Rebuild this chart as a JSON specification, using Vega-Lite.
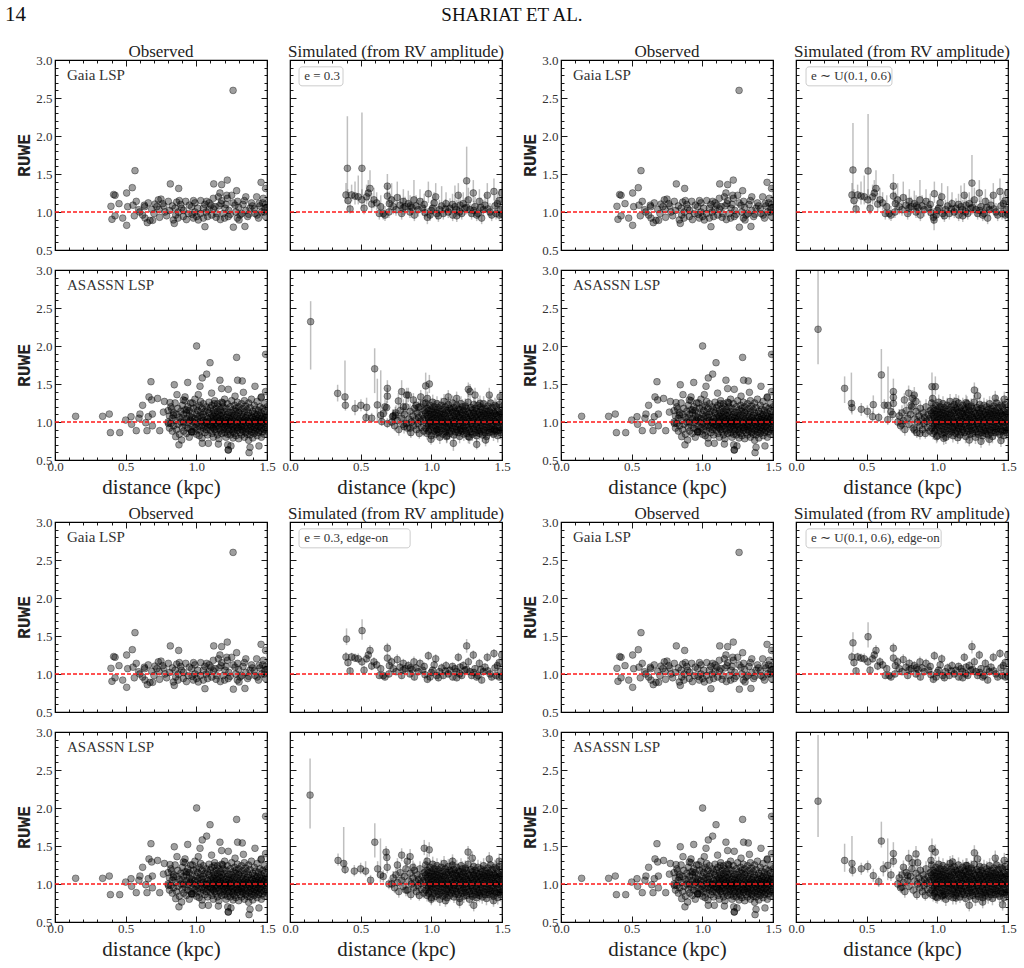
{
"$schema":"https://vega.github.io/schema/vega-lite/v6.json",
"padding":{"left":5,"top":4,"right":5,"bottom":5},
"background":"white",
"config":{
"view":{"stroke":"black","strokeWidth":1.2},
"axis":{"domain":false,"grid":false,"tickColor":"black","tickWidth":0.9,"labelFont":"Liberation Serif","labelFontSize":13,"labelColor":"#333","labelOverlap":false,"labelFlush":false,"titleFont":"Liberation Serif","titleFontWeight":"normal","titleFontSize":21,"titleColor":"#222"},
"axisX":{"labelPadding":6,"titlePadding":0},
"axisY":{"labelPadding":9,"titleFont":"Liberation Mono","titleFontWeight":"bold","titleFontSize":18,"titlePadding":2},
"title":{"font":"Liberation Serif","fontSize":17,"fontWeight":"normal","color":"#222","frame":"group"}
},
"datasets":{
"gobs":[
{"x":0.396,"y":1.075},{"x":0.415,"y":1.23},{"x":0.425,"y":1.22},{"x":0.403,"y":0.904},{"x":0.425,"y":0.95},{"x":0.453,"y":1.11},{"x":0.479,"y":0.92},{"x":0.507,"y":1.25},{"x":0.507,"y":0.825},{"x":0.514,"y":1.07},{"x":0.547,"y":1.32},{"x":0.566,"y":1.544},{"x":0.575,"y":1.14},{"x":0.552,"y":1.09},{"x":0.561,"y":0.95},{"x":0.592,"y":1.03},{"x":0.632,"y":1.09},{"x":0.635,"y":1.07},{"x":0.637,"y":0.92},{"x":0.653,"y":0.86},{"x":0.672,"y":0.89},{"x":0.691,"y":0.89},{"x":0.684,"y":1.035},{"x":0.708,"y":1.105},{"x":0.731,"y":1.16},{"x":0.75,"y":1.17},{"x":0.736,"y":1.03},{"x":0.762,"y":1.11},{"x":0.778,"y":1.0},{"x":0.802,"y":1.14},{"x":0.816,"y":1.37},{"x":0.837,"y":0.895},{"x":0.844,"y":0.85},{"x":0.854,"y":0.96},{"x":0.861,"y":1.13},{"x":0.873,"y":1.0},{"x":0.875,"y":1.31},{"x":0.896,"y":1.05},{"x":0.908,"y":0.94},{"x":0.925,"y":1.14},{"x":0.943,"y":0.98},{"x":0.967,"y":1.07},{"x":0.979,"y":0.92},{"x":0.99,"y":1.0},{"x":1.002,"y":0.94},{"x":1.014,"y":0.895},{"x":1.031,"y":1.15},{"x":1.05,"y":1.05},{"x":1.061,"y":0.807},{"x":1.073,"y":1.14},{"x":1.08,"y":0.94},{"x":1.09,"y":1.03},{"x":1.104,"y":1.09},{"x":1.123,"y":1.37},{"x":1.179,"y":1.36},{"x":1.219,"y":1.42},{"x":1.132,"y":1.07},{"x":1.144,"y":0.98},{"x":1.156,"y":1.2},{"x":1.167,"y":1.25},{"x":1.175,"y":1.11},{"x":1.191,"y":0.98},{"x":1.203,"y":1.05},{"x":1.215,"y":1.22},{"x":1.226,"y":0.94},{"x":1.25,"y":1.22},{"x":1.262,"y":0.8},{"x":1.274,"y":1.09},{"x":1.285,"y":1.28},{"x":1.292,"y":1.14},{"x":1.302,"y":0.895},{"x":1.321,"y":0.98},{"x":1.34,"y":1.15},{"x":1.344,"y":0.81},{"x":1.363,"y":0.94},{"x":1.38,"y":1.05},{"x":1.396,"y":1.08},{"x":1.415,"y":0.98},{"x":1.427,"y":1.2},{"x":1.443,"y":1.11},{"x":1.458,"y":1.39},{"x":1.462,"y":1.0},{"x":1.474,"y":1.18},{"x":1.486,"y":1.05},{"x":1.49,"y":0.94},{"x":1.26,"y":2.6},{"x":1.49,"y":1.31},
{"x":0.6,"y":1.0},{"x":0.62,"y":0.96},{"x":0.66,"y":1.12},{"x":0.7,"y":0.98},{"x":0.72,"y":1.07},{"x":0.74,"y":0.93},{"x":0.77,"y":1.08},{"x":0.79,"y":0.95},{"x":0.81,"y":1.02},{"x":0.83,"y":1.08},{"x":0.85,"y":1.05},{"x":0.87,"y":0.92},{"x":0.89,"y":1.1},{"x":0.91,"y":1.02},{"x":0.93,"y":0.9},{"x":0.95,"y":1.09},{"x":0.97,"y":0.97},{"x":0.99,"y":1.12},{"x":1.01,"y":1.05},{"x":1.03,"y":0.98},{"x":1.05,"y":0.92},{"x":1.07,"y":1.0},{"x":1.09,"y":1.12},{"x":1.11,"y":0.96},{"x":1.12,"y":1.04},{"x":1.14,"y":0.93},{"x":1.16,"y":1.08},{"x":1.18,"y":1.15},{"x":1.2,"y":0.92},{"x":1.21,"y":1.1},{"x":1.23,"y":1.02},{"x":1.24,"y":0.97},{"x":1.26,"y":1.12},{"x":1.28,"y":1.0},{"x":1.3,"y":1.06},{"x":1.31,"y":0.96},{"x":1.33,"y":1.1},{"x":1.35,"y":1.02},{"x":1.37,"y":0.97},{"x":1.39,"y":1.12},{"x":1.41,"y":1.04},{"x":1.43,"y":0.96},{"x":1.45,"y":1.08},{"x":1.47,"y":1.12},{"x":1.48,"y":1.0},{"x":1.49,"y":1.1},{"x":1.5,"y":1.06},{"x":1.35,"y":1.2},{"x":1.22,"y":1.18},{"x":1.12,"y":1.18},{"x":0.98,"y":1.15},{"x":0.88,"y":1.15},{"x":1.06,"y":1.1},{"x":1.17,"y":0.9},{"x":1.29,"y":0.92},{"x":1.44,"y":0.92}
],
"aobs":[
{"x":0.146,"y":1.075},{"x":0.337,"y":1.075},{"x":0.384,"y":1.105},{"x":0.392,"y":0.86},{"x":0.458,"y":0.86},{"x":0.5,"y":1.026},{"x":0.538,"y":1.07},{"x":0.542,"y":0.97},{"x":0.575,"y":0.886},{"x":0.601,"y":1.105},{"x":0.594,"y":1.05},{"x":0.62,"y":1.22},{"x":0.642,"y":0.99},{"x":0.651,"y":0.886},{"x":0.665,"y":1.33},{"x":0.684,"y":1.29},{"x":0.679,"y":1.53},{"x":0.66,"y":1.07},{"x":0.689,"y":1.105},{"x":0.689,"y":0.95},{"x":0.726,"y":1.31},{"x":0.741,"y":0.886},{"x":0.767,"y":1.13},{"x":0.774,"y":1.27},{"x":0.802,"y":0.98},{"x":0.814,"y":1.255},{"x":0.825,"y":1.17},{"x":0.837,"y":1.09},{"x":0.844,"y":1.49},{"x":0.854,"y":0.807},{"x":0.863,"y":1.36},{"x":0.877,"y":0.7},{"x":0.896,"y":0.763},{"x":0.908,"y":1.29},{"x":0.92,"y":1.33},{"x":0.932,"y":1.16},{"x":0.939,"y":1.52},{"x":0.955,"y":1.03},{"x":0.967,"y":0.87},{"x":0.967,"y":0.87},{"x":0.972,"y":1.25},{"x":1.002,"y":2.0},{"x":1.014,"y":1.36},{"x":1.026,"y":1.47},{"x":1.042,"y":1.58},{"x":1.042,"y":0.72},{"x":1.073,"y":1.63},{"x":1.085,"y":0.72},{"x":1.097,"y":1.78},{"x":1.108,"y":1.38},{"x":1.127,"y":1.24},{"x":1.156,"y":0.71},{"x":1.167,"y":1.55},{"x":1.179,"y":1.44},{"x":1.186,"y":1.25},{"x":1.222,"y":0.7},{"x":1.226,"y":0.632},{"x":1.226,"y":0.632},{"x":1.245,"y":0.685},{"x":1.285,"y":1.85},{"x":1.292,"y":1.55},{"x":1.325,"y":1.54},{"x":1.333,"y":1.39},{"x":1.373,"y":0.597},{"x":1.38,"y":0.667},{"x":1.443,"y":0.685},{"x":1.49,"y":1.89},{"x":1.226,"y":1.43},{"x":1.274,"y":1.34},{"x":1.415,"y":1.47},{"x":1.458,"y":1.32},
{"x":0.8,"y":1.0},{"x":0.8,"y":1.15},{"x":0.81,"y":0.92},{"x":0.81,"y":1.08},{"x":0.82,"y":1.2},{"x":0.82,"y":0.98},{"x":0.83,"y":1.05},{"x":0.83,"y":0.88},{"x":0.84,"y":1.12},{"x":0.84,"y":0.95},{"x":0.85,"y":1.02},{"x":0.85,"y":1.25},{"x":0.86,"y":0.9},{"x":0.86,"y":1.1},{"x":0.87,"y":1.18},{"x":0.87,"y":0.97},{"x":0.88,"y":1.06},{"x":0.88,"y":0.84},{"x":0.89,"y":1.14},{"x":0.89,"y":1.0},
{"x":0.9,"y":0.93},{"x":0.9,"y":1.22},{"x":0.9,"y":1.05},{"x":0.91,"y":1.1},{"x":0.91,"y":0.88},{"x":0.91,"y":1.0},{"x":0.92,"y":0.96},{"x":0.92,"y":1.16},{"x":0.92,"y":1.28},{"x":0.93,"y":1.04},{"x":0.93,"y":0.85},{"x":0.93,"y":1.12},{"x":0.94,"y":0.99},{"x":0.94,"y":1.2},{"x":0.94,"y":0.92},{"x":0.95,"y":1.08},{"x":0.95,"y":0.8},{"x":0.95,"y":1.15},{"x":0.96,"y":1.02},{"x":0.96,"y":0.9},{"x":0.96,"y":1.25},{"x":0.97,"y":0.95},{"x":0.97,"y":1.12},{"x":0.97,"y":1.06},{"x":0.98,"y":1.18},{"x":0.98,"y":0.87},{"x":0.98,"y":1.0},{"x":0.99,"y":1.04},{"x":0.99,"y":0.93},{"x":0.99,"y":1.3},
{"x":1.0,"y":0.97},{"x":1.0,"y":1.1},{"x":1.0,"y":0.84},{"x":1.0,"y":1.2},{"x":1.01,"y":1.05},{"x":1.01,"y":0.9},{"x":1.01,"y":1.15},{"x":1.01,"y":0.99},{"x":1.02,"y":0.94},{"x":1.02,"y":1.22},{"x":1.02,"y":1.08},{"x":1.02,"y":0.82},{"x":1.03,"y":1.01},{"x":1.03,"y":0.88},{"x":1.03,"y":1.13},{"x":1.03,"y":1.27},{"x":1.04,"y":0.96},{"x":1.04,"y":1.06},{"x":1.04,"y":0.79},{"x":1.04,"y":1.18},{"x":1.05,"y":1.1},{"x":1.05,"y":0.92},{"x":1.05,"y":1.02},{"x":1.05,"y":1.24},{"x":1.06,"y":0.86},{"x":1.06,"y":1.0},{"x":1.06,"y":1.14},{"x":1.06,"y":0.95},{"x":1.07,"y":1.07},{"x":1.07,"y":0.9},{"x":1.07,"y":1.2},{"x":1.07,"y":0.99},{"x":1.08,"y":0.93},{"x":1.08,"y":1.04},{"x":1.08,"y":0.83},{"x":1.08,"y":1.16},{"x":1.09,"y":1.12},{"x":1.09,"y":0.97},{"x":1.09,"y":1.01},{"x":1.09,"y":1.26},{"x":1.1,"y":0.89},{"x":1.1,"y":1.06},{"x":1.1,"y":0.95},{"x":1.1,"y":1.19},
{"x":1.11,"y":1.0},{"x":1.11,"y":0.85},{"x":1.11,"y":1.1},{"x":1.11,"y":1.22},{"x":1.11,"y":0.94},{"x":1.12,"y":0.92},{"x":1.12,"y":1.04},{"x":1.12,"y":1.15},{"x":1.12,"y":0.8},{"x":1.12,"y":1.08},{"x":1.13,"y":1.02},{"x":1.13,"y":0.9},{"x":1.13,"y":1.12},{"x":1.13,"y":1.28},{"x":1.13,"y":0.97},{"x":1.14,"y":0.87},{"x":1.14,"y":0.99},{"x":1.14,"y":1.07},{"x":1.14,"y":1.18},{"x":1.14,"y":0.94},{"x":1.15,"y":1.05},{"x":1.15,"y":0.83},{"x":1.15,"y":0.96},{"x":1.15,"y":1.14},{"x":1.15,"y":1.24},{"x":1.16,"y":0.91},{"x":1.16,"y":1.01},{"x":1.16,"y":1.1},{"x":1.16,"y":0.78},{"x":1.16,"y":1.2},{"x":1.17,"y":0.98},{"x":1.17,"y":1.08},{"x":1.17,"y":0.88},{"x":1.17,"y":1.16},{"x":1.17,"y":1.03},{"x":1.18,"y":0.94},{"x":1.18,"y":1.12},{"x":1.18,"y":0.85},{"x":1.18,"y":1.0},{"x":1.18,"y":1.26},{"x":1.19,"y":1.04},{"x":1.19,"y":0.9},{"x":1.19,"y":1.2},{"x":1.19,"y":0.97},{"x":1.19,"y":1.09},{"x":1.2,"y":0.86},{"x":1.2,"y":1.0},{"x":1.2,"y":1.14},{"x":1.2,"y":0.93},{"x":1.2,"y":1.3},
{"x":1.21,"y":1.06},{"x":1.21,"y":0.95},{"x":1.21,"y":0.8},{"x":1.21,"y":1.18},{"x":1.21,"y":1.02},{"x":1.22,"y":0.9},{"x":1.22,"y":1.1},{"x":1.22,"y":0.98},{"x":1.22,"y":1.24},{"x":1.22,"y":0.84},{"x":1.23,"y":1.0},{"x":1.23,"y":0.88},{"x":1.23,"y":1.13},{"x":1.23,"y":1.05},{"x":1.23,"y":0.93},{"x":1.24,"y":0.96},{"x":1.24,"y":1.2},{"x":1.24,"y":0.83},{"x":1.24,"y":1.08},{"x":1.24,"y":1.01},{"x":1.25,"y":1.12},{"x":1.25,"y":0.9},{"x":1.25,"y":1.03},{"x":1.25,"y":0.97},{"x":1.25,"y":1.28},{"x":1.26,"y":0.87},{"x":1.26,"y":1.06},{"x":1.26,"y":0.94},{"x":1.26,"y":1.16},{"x":1.26,"y":0.79},{"x":1.27,"y":1.0},{"x":1.27,"y":1.22},{"x":1.27,"y":0.91},{"x":1.27,"y":1.09},{"x":1.27,"y":0.85},{"x":1.28,"y":0.95},{"x":1.28,"y":1.04},{"x":1.28,"y":1.14},{"x":1.28,"y":0.82},{"x":1.28,"y":1.18},{"x":1.29,"y":1.08},{"x":1.29,"y":0.89},{"x":1.29,"y":0.99},{"x":1.29,"y":1.26},{"x":1.29,"y":0.93},{"x":1.3,"y":0.92},{"x":1.3,"y":1.02},{"x":1.3,"y":1.12},{"x":1.3,"y":0.78},{"x":1.3,"y":1.2},
{"x":1.31,"y":1.05},{"x":1.31,"y":0.86},{"x":1.31,"y":0.97},{"x":1.31,"y":1.15},{"x":1.31,"y":1.0},{"x":1.32,"y":0.9},{"x":1.32,"y":1.1},{"x":1.32,"y":0.94},{"x":1.32,"y":1.24},{"x":1.32,"y":0.83},{"x":1.33,"y":1.01},{"x":1.33,"y":0.88},{"x":1.33,"y":1.07},{"x":1.33,"y":1.18},{"x":1.33,"y":0.96},{"x":1.34,"y":0.93},{"x":1.34,"y":1.13},{"x":1.34,"y":0.8},{"x":1.34,"y":1.03},{"x":1.34,"y":1.28},{"x":1.35,"y":1.06},{"x":1.35,"y":0.91},{"x":1.35,"y":0.99},{"x":1.35,"y":1.21},{"x":1.35,"y":0.86},{"x":1.36,"y":0.95},{"x":1.36,"y":1.09},{"x":1.36,"y":0.84},{"x":1.36,"y":1.16},{"x":1.36,"y":1.02},{"x":1.37,"y":1.0},{"x":1.37,"y":0.89},{"x":1.37,"y":1.12},{"x":1.37,"y":0.76},{"x":1.37,"y":1.25},{"x":1.38,"y":0.92},{"x":1.38,"y":1.05},{"x":1.38,"y":0.97},{"x":1.38,"y":1.19},{"x":1.38,"y":0.83},{"x":1.39,"y":1.08},{"x":1.39,"y":0.87},{"x":1.39,"y":1.01},{"x":1.39,"y":1.3},{"x":1.39,"y":0.94},{"x":1.4,"y":0.9},{"x":1.4,"y":1.14},{"x":1.4,"y":0.98},{"x":1.4,"y":0.79},{"x":1.4,"y":1.06},
{"x":1.41,"y":1.03},{"x":1.41,"y":0.93},{"x":1.41,"y":1.22},{"x":1.41,"y":0.85},{"x":1.41,"y":1.11},{"x":1.42,"y":0.96},{"x":1.42,"y":1.07},{"x":1.42,"y":0.88},{"x":1.42,"y":1.17},{"x":1.42,"y":1.0},{"x":1.43,"y":1.1},{"x":1.43,"y":0.91},{"x":1.43,"y":1.02},{"x":1.43,"y":1.27},{"x":1.43,"y":0.82},{"x":1.44,"y":0.94},{"x":1.44,"y":1.05},{"x":1.44,"y":0.86},{"x":1.44,"y":1.15},{"x":1.44,"y":0.99},{"x":1.45,"y":1.01},{"x":1.45,"y":0.89},{"x":1.45,"y":1.2},{"x":1.45,"y":0.95},{"x":1.45,"y":1.09},{"x":1.46,"y":0.92},{"x":1.46,"y":1.12},{"x":1.46,"y":0.8},{"x":1.46,"y":1.04},{"x":1.46,"y":1.33},{"x":1.47,"y":1.07},{"x":1.47,"y":0.97},{"x":1.47,"y":0.87},{"x":1.47,"y":1.18},{"x":1.47,"y":1.0},{"x":1.48,"y":0.9},{"x":1.48,"y":1.03},{"x":1.48,"y":1.14},{"x":1.48,"y":0.84},{"x":1.48,"y":1.24},{"x":1.49,"y":1.05},{"x":1.49,"y":0.93},{"x":1.49,"y":1.1},{"x":1.49,"y":0.98},{"x":1.49,"y":1.4},{"x":1.5,"y":0.95},{"x":1.5,"y":1.08},{"x":1.5,"y":0.88},{"x":1.5,"y":1.2},{"x":1.5,"y":1.01}
],
"gsim":[
{"g":"c","x":0.396,"y":1.224,"lw":1.12,"hw":1.38,"ln":1.17,"hn":1.29},{"g":"c","x":0.41,"y":1.15,"lw":1.06,"hw":1.3,"ln":1.1,"hn":1.21},{"g":"c","x":0.425,"y":1.04,"lw":0.98,"hw":1.14,"ln":1.0,"hn":1.09},{"g":"c","x":0.436,"y":1.224,"lw":1.14,"hw":1.36,"ln":1.17,"hn":1.28},{"g":"c","x":0.46,"y":1.21,"lw":1.1,"hw":1.4,"ln":1.16,"hn":1.27},{"g":"c","x":0.483,"y":1.2,"lw":1.1,"hw":1.48,"ln":1.15,"hn":1.27},{"g":"c","x":0.509,"y":1.16,"lw":1.05,"hw":1.3,"ln":1.1,"hn":1.22},{"g":"c","x":0.524,"y":1.05,"lw":0.97,"hw":1.2,"ln":1.0,"hn":1.11},{"g":"c","x":0.542,"y":1.2,"lw":1.1,"hw":1.36,"ln":1.15,"hn":1.26},{"g":"c","x":0.554,"y":1.25,"lw":1.14,"hw":1.42,"ln":1.19,"hn":1.31},{"g":"c","x":0.566,"y":1.31,"lw":1.19,"hw":1.55,"ln":1.25,"hn":1.38},{"g":"c","x":0.578,"y":1.105,"lw":1.0,"hw":1.25,"ln":1.05,"hn":1.16},{"g":"c","x":0.594,"y":1.16,"lw":1.05,"hw":1.32,"ln":1.1,"hn":1.22},{"g":"c","x":0.613,"y":1.12,"lw":1.02,"hw":1.26,"ln":1.07,"hn":1.17},{"g":"c","x":0.632,"y":0.98,"lw":0.9,"hw":1.1,"ln":0.94,"hn":1.03},{"g":"c","x":0.642,"y":1.07,"lw":0.97,"hw":1.22,"ln":1.02,"hn":1.12},{"g":"c","x":0.66,"y":0.98,"lw":0.9,"hw":1.09,"ln":0.94,"hn":1.03},{"g":"c","x":0.672,"y":0.96,"lw":0.88,"hw":1.08,"ln":0.92,"hn":1.01},{"g":"c","x":0.689,"y":1.34,"lw":1.2,"hw":1.5,"ln":1.27,"hn":1.41},{"g":"c","x":0.689,"y":1.21,"lw":1.1,"hw":1.36,"ln":1.15,"hn":1.27},{"g":"c","x":0.703,"y":1.11,"lw":1.0,"hw":1.27,"ln":1.05,"hn":1.17},{"g":"c","x":0.719,"y":1.16,"lw":1.05,"hw":1.38,"ln":1.1,"hn":1.22},{"g":"c","x":0.731,"y":1.07,"lw":0.97,"hw":1.2,"ln":1.02,"hn":1.12},{"g":"c","x":0.75,"y":1.03,"lw":0.95,"hw":1.15,"ln":0.99,"hn":1.08},{"g":"c","x":0.759,"y":1.19,"lw":1.07,"hw":1.4,"ln":1.13,"hn":1.26},{"g":"c","x":0.778,"y":1.09,"lw":0.99,"hw":1.23,"ln":1.04,"hn":1.14},{"g":"c","x":0.79,"y":0.98,"lw":0.9,"hw":1.1,"ln":0.94,"hn":1.03},{"g":"c","x":0.802,"y":1.14,"lw":1.03,"hw":1.3,"ln":1.08,"hn":1.2},{"g":"c","x":0.814,"y":1.07,"lw":0.97,"hw":1.2,"ln":1.02,"hn":1.12},{"g":"c","x":0.837,"y":1.11,"lw":1.0,"hw":1.28,"ln":1.06,"hn":1.17},{"g":"c","x":0.849,"y":1.0,"lw":0.92,"hw":1.12,"ln":0.96,"hn":1.05},{"g":"c","x":0.863,"y":1.06,"lw":0.96,"hw":1.2,"ln":1.01,"hn":1.11},{"g":"c","x":0.877,"y":1.16,"lw":1.05,"hw":1.42,"ln":1.1,"hn":1.23},{"g":"c","x":0.892,"y":1.08,"lw":0.98,"hw":1.22,"ln":1.03,"hn":1.13},{"g":"c","x":0.908,"y":1.03,"lw":0.94,"hw":1.16,"ln":0.98,"hn":1.08},{"g":"c","x":0.92,"y":1.14,"lw":1.03,"hw":1.3,"ln":1.08,"hn":1.2},{"g":"c","x":0.939,"y":1.05,"lw":0.96,"hw":1.18,"ln":1.0,"hn":1.1},{"g":"c","x":0.955,"y":0.99,"lw":0.91,"hw":1.1,"ln":0.95,"hn":1.04},{"g":"c","x":0.972,"y":0.93,"lw":0.84,"hw":1.05,"ln":0.89,"hn":0.98},{"g":"c","x":0.979,"y":1.24,"lw":1.12,"hw":1.4,"ln":1.18,"hn":1.3},{"g":"c","x":0.991,"y":0.96,"lw":0.88,"hw":1.08,"ln":0.92,"hn":1.01},{"g":"c","x":1.009,"y":1.05,"lw":0.96,"hw":1.2,"ln":1.0,"hn":1.1},{"g":"c","x":1.031,"y":1.2,"lw":1.08,"hw":1.38,"ln":1.14,"hn":1.26},{"g":"c","x":1.038,"y":0.98,"lw":0.9,"hw":1.1,"ln":0.94,"hn":1.03},{"g":"c","x":1.057,"y":1.03,"lw":0.94,"hw":1.16,"ln":0.98,"hn":1.08},{"g":"c","x":1.073,"y":1.08,"lw":0.98,"hw":1.34,"ln":1.03,"hn":1.14},{"g":"c","x":1.085,"y":0.98,"lw":0.9,"hw":1.1,"ln":0.94,"hn":1.03},{"g":"c","x":1.104,"y":1.11,"lw":1.0,"hw":1.26,"ln":1.06,"hn":1.17},{"g":"c","x":1.12,"y":1.0,"lw":0.92,"hw":1.12,"ln":0.96,"hn":1.05},{"g":"c","x":1.132,"y":1.05,"lw":0.96,"hw":1.18,"ln":1.0,"hn":1.1},{"g":"c","x":1.151,"y":0.96,"lw":0.88,"hw":1.08,"ln":0.92,"hn":1.01},{"g":"c","x":1.167,"y":1.07,"lw":0.97,"hw":1.35,"ln":1.02,"hn":1.12},{"g":"c","x":1.179,"y":1.03,"lw":0.94,"hw":1.16,"ln":0.98,"hn":1.08},{"g":"c","x":1.191,"y":1.22,"lw":1.1,"hw":1.38,"ln":1.16,"hn":1.28},{"g":"c","x":1.203,"y":1.09,"lw":0.99,"hw":1.24,"ln":1.04,"hn":1.14},{"g":"c","x":1.215,"y":0.98,"lw":0.9,"hw":1.1,"ln":0.94,"hn":1.03},{"g":"c","x":1.226,"y":1.11,"lw":1.0,"hw":1.26,"ln":1.06,"hn":1.17},{"g":"c","x":1.238,"y":1.05,"lw":0.96,"hw":1.18,"ln":1.0,"hn":1.1},{"g":"c","x":1.262,"y":1.16,"lw":1.05,"hw":1.32,"ln":1.1,"hn":1.22},{"g":"c","x":1.274,"y":1.03,"lw":0.94,"hw":1.16,"ln":0.98,"hn":1.08},{"g":"c","x":1.285,"y":0.98,"lw":0.9,"hw":1.1,"ln":0.94,"hn":1.03},{"g":"c","x":1.297,"y":1.25,"lw":1.13,"hw":1.42,"ln":1.19,"hn":1.31},{"g":"c","x":1.309,"y":1.07,"lw":0.97,"hw":1.2,"ln":1.02,"hn":1.12},{"g":"c","x":1.321,"y":0.96,"lw":0.88,"hw":1.08,"ln":0.92,"hn":1.01},{"g":"c","x":1.34,"y":1.14,"lw":1.03,"hw":1.3,"ln":1.08,"hn":1.2},{"g":"c","x":1.356,"y":0.92,"lw":0.84,"hw":1.04,"ln":0.88,"hn":0.97},{"g":"c","x":1.368,"y":1.03,"lw":0.94,"hw":1.16,"ln":0.98,"hn":1.08},{"g":"c","x":1.38,"y":1.09,"lw":0.99,"hw":1.24,"ln":1.04,"hn":1.14},{"g":"c","x":1.396,"y":1.22,"lw":1.1,"hw":1.38,"ln":1.16,"hn":1.28},{"g":"c","x":1.415,"y":1.0,"lw":0.92,"hw":1.12,"ln":0.96,"hn":1.05},{"g":"c","x":1.427,"y":0.96,"lw":0.88,"hw":1.08,"ln":0.92,"hn":1.01},{"g":"c","x":1.443,"y":1.27,"lw":1.15,"hw":1.44,"ln":1.21,"hn":1.33},{"g":"c","x":1.458,"y":0.98,"lw":0.9,"hw":1.1,"ln":0.94,"hn":1.03},{"g":"c","x":1.467,"y":1.11,"lw":1.0,"hw":1.26,"ln":1.06,"hn":1.17},{"g":"c","x":1.481,"y":0.96,"lw":0.88,"hw":1.08,"ln":0.92,"hn":1.01},{"g":"c","x":1.491,"y":1.03,"lw":0.94,"hw":1.16,"ln":0.98,"hn":1.08},{"g":"c","x":1.498,"y":1.25,"lw":1.13,"hw":1.42,"ln":1.19,"hn":1.31},
{"g":"c","x":0.85,"y":1.08,"lw":0.98,"hw":1.22,"ln":1.03,"hn":1.13},{"g":"c","x":0.95,"y":1.1,"lw":1.0,"hw":1.24,"ln":1.05,"hn":1.15},{"g":"c","x":1.0,"y":1.02,"lw":0.93,"hw":1.15,"ln":0.97,"hn":1.07},{"g":"c","x":1.05,"y":0.95,"lw":0.87,"hw":1.06,"ln":0.91,"hn":1.0},{"g":"c","x":1.1,"y":1.04,"lw":0.95,"hw":1.17,"ln":0.99,"hn":1.09},{"g":"c","x":1.15,"y":1.1,"lw":1.0,"hw":1.24,"ln":1.05,"hn":1.15},{"g":"c","x":1.2,"y":1.0,"lw":0.92,"hw":1.12,"ln":0.96,"hn":1.05},{"g":"c","x":1.25,"y":1.06,"lw":0.97,"hw":1.19,"ln":1.01,"hn":1.11},{"g":"c","x":1.3,"y":1.02,"lw":0.93,"hw":1.15,"ln":0.97,"hn":1.07},{"g":"c","x":1.35,"y":1.06,"lw":0.97,"hw":1.19,"ln":1.01,"hn":1.11},{"g":"c","x":1.4,"y":1.04,"lw":0.95,"hw":1.17,"ln":0.99,"hn":1.09},{"g":"c","x":1.45,"y":1.08,"lw":0.98,"hw":1.22,"ln":1.03,"hn":1.13},{"g":"c","x":1.5,"y":0.97,"lw":0.89,"hw":1.08,"ln":0.93,"hn":1.02},{"g":"c","x":1.02,"y":1.12,"lw":1.02,"hw":1.26,"ln":1.07,"hn":1.17},{"g":"c","x":1.18,"y":0.95,"lw":0.87,"hw":1.06,"ln":0.91,"hn":1.0},{"g":"c","x":1.33,"y":0.98,"lw":0.9,"hw":1.1,"ln":0.94,"hn":1.03},{"g":"c","x":1.48,"y":1.15,"lw":1.04,"hw":1.3,"ln":1.09,"hn":1.21},{"g":"c","x":0.88,"y":0.96,"lw":0.88,"hw":1.07,"ln":0.92,"hn":1.01},{"g":"c","x":0.7,"y":1.0,"lw":0.92,"hw":1.12,"ln":0.96,"hn":1.05},{"g":"c","x":0.8,"y":1.05,"lw":0.96,"hw":1.18,"ln":1.0,"hn":1.1},
{"g":"A","x":0.406,"y":1.575,"lw":1.22,"hw":2.26,"ln":1.22,"hn":2.26},{"g":"A","x":0.509,"y":1.575,"lw":1.2,"hw":2.31,"ln":1.2,"hn":2.31},{"g":"A","x":1.25,"y":1.41,"lw":1.16,"hw":1.86,"ln":1.16,"hn":1.86},
{"g":"B","x":0.403,"y":1.553,"lw":1.2,"hw":2.17,"ln":1.2,"hn":2.17},{"g":"B","x":0.51,"y":1.54,"lw":1.15,"hw":2.29,"ln":1.15,"hn":2.29},{"g":"B","x":1.245,"y":1.38,"lw":1.1,"hw":1.75,"ln":1.1,"hn":1.75},{"g":"B","x":0.977,"y":0.895,"lw":0.76,"hw":1.0,"ln":0.76,"hn":1.0},
{"g":"C","x":0.4,"y":1.46,"lw":1.38,"hw":1.6,"ln":1.38,"hn":1.6},{"g":"C","x":0.51,"y":1.57,"lw":1.45,"hw":1.72,"ln":1.45,"hn":1.72},{"g":"C","x":1.25,"y":1.37,"lw":1.28,"hw":1.46,"ln":1.28,"hn":1.46},
{"g":"D","x":0.403,"y":1.41,"lw":1.29,"hw":1.55,"ln":1.29,"hn":1.55},{"g":"D","x":0.51,"y":1.49,"lw":1.35,"hw":1.68,"ln":1.35,"hn":1.68},{"g":"D","x":1.245,"y":1.36,"lw":1.27,"hw":1.44,"ln":1.27,"hn":1.44}
],
"asim":[
{"g":"c","x":0.72,"y":1.0,"l":0.93,"h":1.08},{"g":"c","x":0.73,"y":1.08,"l":1.0,"h":1.17},{"g":"c","x":0.74,"y":0.95,"l":0.88,"h":1.03},{"g":"c","x":0.75,"y":1.12,"l":1.03,"h":1.22},{"g":"c","x":0.76,"y":1.02,"l":0.95,"h":1.1},{"g":"c","x":0.77,"y":0.9,"l":0.82,"h":0.98},{"g":"c","x":0.78,"y":1.15,"l":1.06,"h":1.25},{"g":"c","x":0.79,"y":1.05,"l":0.97,"h":1.14},{"g":"c","x":0.8,"y":0.97,"l":0.9,"h":1.05},{"g":"c","x":0.81,"y":1.1,"l":1.01,"h":1.2},{"g":"c","x":0.82,"y":1.2,"l":1.1,"h":1.3},{"g":"c","x":0.83,"y":0.92,"l":0.85,"h":1.0},{"g":"c","x":0.84,"y":1.04,"l":0.96,"h":1.13},{"g":"c","x":0.85,"y":1.14,"l":1.05,"h":1.24},{"g":"c","x":0.855,"y":0.86,"l":0.79,"h":0.94},{"g":"c","x":0.86,"y":1.0,"l":0.92,"h":1.08},{"g":"c","x":0.87,"y":1.08,"l":0.99,"h":1.17},{"g":"c","x":0.875,"y":0.95,"l":0.88,"h":1.03},{"g":"c","x":0.88,"y":1.18,"l":1.08,"h":1.28},{"g":"c","x":0.89,"y":1.03,"l":0.95,"h":1.12},{"g":"c","x":0.895,"y":0.9,"l":0.83,"h":0.98},{"g":"c","x":0.9,"y":1.12,"l":1.03,"h":1.21},{"g":"c","x":0.905,"y":0.98,"l":0.9,"h":1.06},{"g":"c","x":0.91,"y":1.06,"l":0.98,"h":1.15},{"g":"c","x":0.915,"y":0.85,"l":0.78,"h":0.93},{"g":"c","x":0.92,"y":1.2,"l":1.1,"h":1.3},{"g":"c","x":0.925,"y":1.01,"l":0.93,"h":1.09},{"g":"c","x":0.93,"y":0.93,"l":0.86,"h":1.01},{"g":"c","x":0.935,"y":1.1,"l":1.02,"h":1.19},{"g":"c","x":0.94,"y":1.04,"l":0.96,"h":1.12},{"g":"c","x":0.945,"y":0.88,"l":0.81,"h":0.96},{"g":"c","x":0.95,"y":1.15,"l":1.06,"h":1.25},
{"g":"c","x":0.96,"y":0.92,"l":0.84,"h":1.01},{"g":"c","x":0.96,"y":1.02,"l":0.92,"h":1.12},{"g":"c","x":0.96,"y":1.12,"l":1.05,"h":1.2},{"g":"c","x":0.96,"y":1.25,"l":1.16,"h":1.35},
{"g":"c","x":0.97,"y":0.85,"l":0.77,"h":0.94},{"g":"c","x":0.97,"y":0.98,"l":0.88,"h":1.08},{"g":"c","x":0.97,"y":1.08,"l":1.01,"h":1.16},{"g":"c","x":0.97,"y":1.18,"l":1.09,"h":1.28},
{"g":"c","x":0.98,"y":0.95,"l":0.87,"h":1.04},{"g":"c","x":0.98,"y":1.05,"l":0.95,"h":1.15},{"g":"c","x":0.98,"y":1.15,"l":1.08,"h":1.23},{"g":"c","x":0.98,"y":0.88,"l":0.79,"h":0.98},
{"g":"c","x":0.99,"y":1.0,"l":0.92,"h":1.09},{"g":"c","x":0.99,"y":1.1,"l":1.0,"h":1.2},{"g":"c","x":0.99,"y":0.9,"l":0.83,"h":0.98},{"g":"c","x":0.99,"y":1.22,"l":1.13,"h":1.32},
{"g":"c","x":1.0,"y":0.82,"l":0.74,"h":0.91},{"g":"c","x":1.0,"y":0.97,"l":0.87,"h":1.07},{"g":"c","x":1.0,"y":1.07,"l":1.0,"h":1.15},{"g":"c","x":1.0,"y":1.17,"l":1.08,"h":1.27},
{"g":"c","x":1.01,"y":0.93,"l":0.85,"h":1.02},{"g":"c","x":1.01,"y":1.03,"l":0.93,"h":1.13},{"g":"c","x":1.01,"y":1.13,"l":1.06,"h":1.21},{"g":"c","x":1.01,"y":1.26,"l":1.17,"h":1.36},
{"g":"c","x":1.02,"y":0.88,"l":0.8,"h":0.97},{"g":"c","x":1.02,"y":1.0,"l":0.9,"h":1.1},{"g":"c","x":1.02,"y":1.1,"l":1.03,"h":1.18},{"g":"c","x":1.02,"y":1.2,"l":1.11,"h":1.3},
{"g":"c","x":1.03,"y":0.95,"l":0.87,"h":1.04},{"g":"c","x":1.03,"y":1.05,"l":0.95,"h":1.15},{"g":"c","x":1.03,"y":0.84,"l":0.77,"h":0.92},{"g":"c","x":1.03,"y":1.16,"l":1.07,"h":1.26},
{"g":"c","x":1.04,"y":0.9,"l":0.82,"h":0.99},{"g":"c","x":1.04,"y":1.02,"l":0.92,"h":1.12},{"g":"c","x":1.04,"y":1.12,"l":1.05,"h":1.2},{"g":"c","x":1.04,"y":1.24,"l":1.15,"h":1.34},
{"g":"c","x":1.05,"y":0.86,"l":0.78,"h":0.95},{"g":"c","x":1.05,"y":0.98,"l":0.88,"h":1.08},{"g":"c","x":1.05,"y":1.08,"l":1.01,"h":1.16},{"g":"c","x":1.05,"y":1.19,"l":1.1,"h":1.29},
{"g":"c","x":1.06,"y":0.94,"l":0.86,"h":1.03},{"g":"c","x":1.06,"y":1.04,"l":0.94,"h":1.14},{"g":"c","x":1.06,"y":1.14,"l":1.07,"h":1.22},{"g":"c","x":1.06,"y":0.8,"l":0.71,"h":0.9},
{"g":"c","x":1.07,"y":0.89,"l":0.81,"h":0.98},{"g":"c","x":1.07,"y":1.0,"l":0.9,"h":1.1},{"g":"c","x":1.07,"y":1.1,"l":1.03,"h":1.18},{"g":"c","x":1.07,"y":1.22,"l":1.13,"h":1.32},
{"g":"c","x":1.08,"y":0.96,"l":0.88,"h":1.05},{"g":"c","x":1.08,"y":1.06,"l":0.96,"h":1.16},{"g":"c","x":1.08,"y":0.84,"l":0.77,"h":0.92},{"g":"c","x":1.08,"y":1.17,"l":1.08,"h":1.27},
{"g":"c","x":1.09,"y":0.91,"l":0.83,"h":1.0},{"g":"c","x":1.09,"y":1.01,"l":0.91,"h":1.11},{"g":"c","x":1.09,"y":1.11,"l":1.04,"h":1.19},{"g":"c","x":1.09,"y":1.27,"l":1.18,"h":1.37},
{"g":"c","x":1.1,"y":0.87,"l":0.79,"h":0.96},{"g":"c","x":1.1,"y":0.99,"l":0.89,"h":1.09},{"g":"c","x":1.1,"y":1.09,"l":1.02,"h":1.17},{"g":"c","x":1.1,"y":1.2,"l":1.11,"h":1.3},
{"g":"c","x":1.11,"y":0.93,"l":0.85,"h":1.02},{"g":"c","x":1.11,"y":1.03,"l":0.93,"h":1.13},{"g":"c","x":1.11,"y":1.15,"l":1.08,"h":1.23},{"g":"c","x":1.11,"y":0.82,"l":0.73,"h":0.92},
{"g":"c","x":1.12,"y":0.9,"l":0.82,"h":0.99},{"g":"c","x":1.12,"y":1.0,"l":0.9,"h":1.1},{"g":"c","x":1.12,"y":1.12,"l":1.05,"h":1.2},{"g":"c","x":1.12,"y":1.23,"l":1.14,"h":1.33},
{"g":"c","x":1.13,"y":0.85,"l":0.77,"h":0.94},{"g":"c","x":1.13,"y":0.97,"l":0.87,"h":1.07},{"g":"c","x":1.13,"y":1.07,"l":1.0,"h":1.15},{"g":"c","x":1.13,"y":1.18,"l":1.09,"h":1.28},
{"g":"c","x":1.14,"y":0.95,"l":0.87,"h":1.04},{"g":"c","x":1.14,"y":1.05,"l":0.95,"h":1.15},{"g":"c","x":1.14,"y":1.16,"l":1.09,"h":1.24},{"g":"c","x":1.14,"y":0.88,"l":0.79,"h":0.98},
{"g":"c","x":1.15,"y":0.92,"l":0.84,"h":1.01},{"g":"c","x":1.15,"y":1.02,"l":0.92,"h":1.12},{"g":"c","x":1.15,"y":1.13,"l":1.06,"h":1.21},{"g":"c","x":1.15,"y":1.25,"l":1.16,"h":1.35},
{"g":"c","x":1.16,"y":0.83,"l":0.75,"h":0.92},{"g":"c","x":1.16,"y":0.98,"l":0.88,"h":1.08},{"g":"c","x":1.16,"y":1.08,"l":1.01,"h":1.16},{"g":"c","x":1.16,"y":1.19,"l":1.1,"h":1.29},
{"g":"c","x":1.17,"y":0.94,"l":0.86,"h":1.03},{"g":"c","x":1.17,"y":1.04,"l":0.94,"h":1.14},{"g":"c","x":1.17,"y":1.14,"l":1.07,"h":1.22},{"g":"c","x":1.17,"y":0.87,"l":0.78,"h":0.97},
{"g":"c","x":1.18,"y":0.9,"l":0.82,"h":0.99},{"g":"c","x":1.18,"y":1.01,"l":0.91,"h":1.11},{"g":"c","x":1.18,"y":1.11,"l":1.04,"h":1.19},{"g":"c","x":1.18,"y":1.22,"l":1.13,"h":1.32},
{"g":"c","x":1.19,"y":0.86,"l":0.78,"h":0.95},{"g":"c","x":1.19,"y":0.97,"l":0.87,"h":1.07},{"g":"c","x":1.19,"y":1.07,"l":1.0,"h":1.15},{"g":"c","x":1.19,"y":1.17,"l":1.08,"h":1.27},
{"g":"c","x":1.2,"y":0.95,"l":0.87,"h":1.04},{"g":"c","x":1.2,"y":1.06,"l":0.96,"h":1.16},{"g":"c","x":1.2,"y":1.16,"l":1.09,"h":1.24},{"g":"c","x":1.2,"y":0.81,"l":0.72,"h":0.91},
{"g":"c","x":1.21,"y":0.91,"l":0.83,"h":1.0},{"g":"c","x":1.21,"y":1.02,"l":0.92,"h":1.12},{"g":"c","x":1.21,"y":1.12,"l":1.05,"h":1.2},{"g":"c","x":1.21,"y":1.24,"l":1.15,"h":1.34},
{"g":"c","x":1.22,"y":0.88,"l":0.8,"h":0.97},{"g":"c","x":1.22,"y":0.99,"l":0.89,"h":1.09},{"g":"c","x":1.22,"y":1.09,"l":1.02,"h":1.17},{"g":"c","x":1.22,"y":1.2,"l":1.11,"h":1.3},
{"g":"c","x":1.23,"y":0.94,"l":0.86,"h":1.03},{"g":"c","x":1.23,"y":1.04,"l":0.94,"h":1.14},{"g":"c","x":1.23,"y":1.15,"l":1.08,"h":1.23},{"g":"c","x":1.23,"y":0.84,"l":0.75,"h":0.94},
{"g":"c","x":1.24,"y":0.89,"l":0.81,"h":0.98},{"g":"c","x":1.24,"y":1.0,"l":0.9,"h":1.1},{"g":"c","x":1.24,"y":1.1,"l":1.03,"h":1.18},{"g":"c","x":1.24,"y":1.21,"l":1.12,"h":1.31},
{"g":"c","x":1.25,"y":0.85,"l":0.77,"h":0.94},{"g":"c","x":1.25,"y":0.96,"l":0.86,"h":1.06},{"g":"c","x":1.25,"y":1.06,"l":0.99,"h":1.14},{"g":"c","x":1.25,"y":1.18,"l":1.09,"h":1.28},
{"g":"c","x":1.26,"y":0.93,"l":0.85,"h":1.02},{"g":"c","x":1.26,"y":1.03,"l":0.93,"h":1.13},{"g":"c","x":1.26,"y":1.13,"l":1.06,"h":1.21},{"g":"c","x":1.26,"y":1.26,"l":1.17,"h":1.36},
{"g":"c","x":1.27,"y":0.9,"l":0.82,"h":0.99},{"g":"c","x":1.27,"y":1.01,"l":0.91,"h":1.11},{"g":"c","x":1.27,"y":1.11,"l":1.04,"h":1.19},{"g":"c","x":1.27,"y":0.8,"l":0.71,"h":0.9},
{"g":"c","x":1.28,"y":0.87,"l":0.79,"h":0.96},{"g":"c","x":1.28,"y":0.98,"l":0.88,"h":1.08},{"g":"c","x":1.28,"y":1.08,"l":1.01,"h":1.16},{"g":"c","x":1.28,"y":1.19,"l":1.1,"h":1.29},
{"g":"c","x":1.29,"y":0.95,"l":0.87,"h":1.04},{"g":"c","x":1.29,"y":1.05,"l":0.95,"h":1.15},{"g":"c","x":1.29,"y":1.16,"l":1.09,"h":1.24},{"g":"c","x":1.29,"y":0.84,"l":0.75,"h":0.94},
{"g":"c","x":1.3,"y":0.91,"l":0.83,"h":1.0},{"g":"c","x":1.3,"y":1.02,"l":0.92,"h":1.12},{"g":"c","x":1.3,"y":1.12,"l":1.05,"h":1.2},{"g":"c","x":1.3,"y":1.23,"l":1.14,"h":1.33},
{"g":"c","x":1.31,"y":0.86,"l":0.78,"h":0.95},{"g":"c","x":1.31,"y":0.97,"l":0.87,"h":1.07},{"g":"c","x":1.31,"y":1.07,"l":1.0,"h":1.15},{"g":"c","x":1.31,"y":1.18,"l":1.09,"h":1.28},
{"g":"c","x":1.32,"y":0.94,"l":0.86,"h":1.03},{"g":"c","x":1.32,"y":1.04,"l":0.94,"h":1.14},{"g":"c","x":1.32,"y":1.14,"l":1.07,"h":1.22},{"g":"c","x":1.32,"y":0.82,"l":0.73,"h":0.92},
{"g":"c","x":1.33,"y":0.89,"l":0.81,"h":0.98},{"g":"c","x":1.33,"y":1.0,"l":0.9,"h":1.1},{"g":"c","x":1.33,"y":1.1,"l":1.03,"h":1.18},{"g":"c","x":1.33,"y":1.22,"l":1.13,"h":1.32},
{"g":"c","x":1.34,"y":0.92,"l":0.84,"h":1.01},{"g":"c","x":1.34,"y":1.03,"l":0.93,"h":1.13},{"g":"c","x":1.34,"y":1.13,"l":1.06,"h":1.21},{"g":"c","x":1.34,"y":0.85,"l":0.76,"h":0.95},
{"g":"c","x":1.35,"y":0.88,"l":0.8,"h":0.97},{"g":"c","x":1.35,"y":0.99,"l":0.89,"h":1.09},{"g":"c","x":1.35,"y":1.09,"l":1.02,"h":1.17},{"g":"c","x":1.35,"y":1.2,"l":1.11,"h":1.3},
{"g":"c","x":1.36,"y":0.95,"l":0.87,"h":1.04},{"g":"c","x":1.36,"y":1.06,"l":0.96,"h":1.16},{"g":"c","x":1.36,"y":1.16,"l":1.09,"h":1.24},{"g":"c","x":1.36,"y":0.83,"l":0.74,"h":0.93},
{"g":"c","x":1.37,"y":0.9,"l":0.82,"h":0.99},{"g":"c","x":1.37,"y":1.01,"l":0.91,"h":1.11},{"g":"c","x":1.37,"y":1.11,"l":1.04,"h":1.19},{"g":"c","x":1.37,"y":1.24,"l":1.15,"h":1.34},
{"g":"c","x":1.38,"y":0.86,"l":0.78,"h":0.95},{"g":"c","x":1.38,"y":0.97,"l":0.87,"h":1.07},{"g":"c","x":1.38,"y":1.08,"l":1.01,"h":1.16},{"g":"c","x":1.38,"y":1.18,"l":1.09,"h":1.28},
{"g":"c","x":1.39,"y":0.93,"l":0.85,"h":1.02},{"g":"c","x":1.39,"y":1.04,"l":0.94,"h":1.14},{"g":"c","x":1.39,"y":1.14,"l":1.07,"h":1.22},{"g":"c","x":1.39,"y":0.81,"l":0.72,"h":0.91},
{"g":"c","x":1.4,"y":0.89,"l":0.81,"h":0.98},{"g":"c","x":1.4,"y":1.0,"l":0.9,"h":1.1},{"g":"c","x":1.4,"y":1.1,"l":1.03,"h":1.18},{"g":"c","x":1.4,"y":1.21,"l":1.12,"h":1.31},
{"g":"c","x":1.41,"y":0.94,"l":0.86,"h":1.03},{"g":"c","x":1.41,"y":1.05,"l":0.95,"h":1.15},{"g":"c","x":1.41,"y":1.15,"l":1.08,"h":1.23},{"g":"c","x":1.41,"y":0.86,"l":0.77,"h":0.96},
{"g":"c","x":1.42,"y":0.91,"l":0.83,"h":1.0},{"g":"c","x":1.42,"y":1.02,"l":0.92,"h":1.12},{"g":"c","x":1.42,"y":1.12,"l":1.05,"h":1.2},{"g":"c","x":1.42,"y":1.25,"l":1.16,"h":1.35},
{"g":"c","x":1.43,"y":0.87,"l":0.79,"h":0.96},{"g":"c","x":1.43,"y":0.98,"l":0.88,"h":1.08},{"g":"c","x":1.43,"y":1.08,"l":1.01,"h":1.16},{"g":"c","x":1.43,"y":1.19,"l":1.1,"h":1.29},
{"g":"c","x":1.44,"y":0.95,"l":0.87,"h":1.04},{"g":"c","x":1.44,"y":1.03,"l":0.93,"h":1.13},{"g":"c","x":1.44,"y":1.13,"l":1.06,"h":1.21},{"g":"c","x":1.44,"y":0.84,"l":0.75,"h":0.94},
{"g":"c","x":1.45,"y":0.9,"l":0.82,"h":0.99},{"g":"c","x":1.45,"y":1.01,"l":0.91,"h":1.11},{"g":"c","x":1.45,"y":1.11,"l":1.04,"h":1.19},{"g":"c","x":1.45,"y":1.22,"l":1.13,"h":1.32},
{"g":"c","x":1.46,"y":0.88,"l":0.8,"h":0.97},{"g":"c","x":1.46,"y":0.99,"l":0.89,"h":1.09},{"g":"c","x":1.46,"y":1.09,"l":1.02,"h":1.17},{"g":"c","x":1.46,"y":1.2,"l":1.11,"h":1.3},
{"g":"c","x":1.47,"y":0.93,"l":0.85,"h":1.02},{"g":"c","x":1.47,"y":1.04,"l":0.94,"h":1.14},{"g":"c","x":1.47,"y":1.14,"l":1.07,"h":1.22},{"g":"c","x":1.47,"y":0.82,"l":0.73,"h":0.92},
{"g":"c","x":1.48,"y":0.89,"l":0.81,"h":0.98},{"g":"c","x":1.48,"y":1.0,"l":0.9,"h":1.1},{"g":"c","x":1.48,"y":1.1,"l":1.03,"h":1.18},{"g":"c","x":1.48,"y":1.23,"l":1.14,"h":1.33},
{"g":"c","x":1.49,"y":0.92,"l":0.84,"h":1.01},{"g":"c","x":1.49,"y":1.02,"l":0.92,"h":1.12},{"g":"c","x":1.49,"y":1.12,"l":1.05,"h":1.2},{"g":"c","x":1.49,"y":0.86,"l":0.77,"h":0.96},
{"g":"c","x":1.5,"y":0.9,"l":0.82,"h":0.99},{"g":"c","x":1.5,"y":1.01,"l":0.91,"h":1.11},{"g":"c","x":1.5,"y":1.11,"l":1.04,"h":1.19},{"g":"c","x":1.5,"y":1.2,"l":1.11,"h":1.3},
{"g":"A","x":0.146,"y":2.32,"l":1.69,"h":2.59},{"g":"A","x":0.337,"y":1.377,"l":1.27,"h":1.49},{"g":"A","x":0.389,"y":1.33,"l":1.25,"h":1.81},{"g":"A","x":0.392,"y":1.22,"l":1.15,"h":1.3},{"g":"A","x":0.46,"y":1.18,"l":1.09,"h":1.29},{"g":"A","x":0.502,"y":1.22,"l":1.14,"h":1.3},{"g":"A","x":0.542,"y":1.193,"l":1.05,"h":1.32},{"g":"A","x":0.538,"y":1.057,"l":1.0,"h":1.12},{"g":"A","x":0.578,"y":1.05,"l":0.99,"h":1.12},{"g":"A","x":0.599,"y":1.7,"l":1.38,"h":1.97},{"g":"A","x":0.618,"y":1.225,"l":1.0,"h":1.57},{"g":"A","x":0.642,"y":1.09,"l":1.0,"h":1.68},{"g":"A","x":0.649,"y":1.005,"l":0.95,"h":1.06},{"g":"A","x":0.66,"y":1.11,"l":1.03,"h":1.2},{"g":"A","x":0.672,"y":1.2,"l":1.1,"h":1.3},{"g":"A","x":0.689,"y":1.443,"l":1.3,"h":1.55},{"g":"A","x":0.689,"y":1.34,"l":1.25,"h":1.45},{"g":"A","x":0.684,"y":1.19,"l":1.1,"h":1.28},{"g":"A","x":0.689,"y":0.98,"l":0.92,"h":1.05},{"g":"A","x":0.726,"y":1.07,"l":0.98,"h":1.16},{"g":"A","x":0.745,"y":1.09,"l":1.0,"h":1.2},{"g":"A","x":0.767,"y":1.277,"l":1.18,"h":1.38},{"g":"A","x":0.79,"y":1.4,"l":1.3,"h":1.55},{"g":"A","x":0.802,"y":1.2,"l":1.1,"h":1.3},{"g":"A","x":0.825,"y":1.355,"l":1.25,"h":1.45},{"g":"A","x":0.837,"y":1.355,"l":1.26,"h":1.45},{"g":"A","x":0.807,"y":0.94,"l":0.85,"h":1.03},{"g":"A","x":0.825,"y":0.98,"l":0.9,"h":1.06},{"g":"A","x":0.849,"y":0.92,"l":0.82,"h":1.0},{"g":"A","x":0.873,"y":1.29,"l":1.2,"h":1.38},{"g":"A","x":0.892,"y":1.22,"l":1.12,"h":1.3},{"g":"A","x":0.908,"y":1.193,"l":1.1,"h":1.28},{"g":"A","x":0.925,"y":1.33,"l":1.22,"h":1.42},{"g":"A","x":0.943,"y":1.24,"l":1.15,"h":1.33},{"g":"A","x":0.96,"y":1.475,"l":1.35,"h":1.65},{"g":"A","x":0.986,"y":1.5,"l":1.38,"h":1.62},{"g":"A","x":0.972,"y":1.31,"l":1.2,"h":1.4},{"g":"A","x":0.998,"y":0.772,"l":0.7,"h":0.85},{"g":"A","x":1.038,"y":0.895,"l":0.8,"h":0.98},{"g":"A","x":1.108,"y":0.807,"l":0.72,"h":0.9},{"g":"A","x":1.156,"y":0.72,"l":0.62,"h":0.82},{"g":"A","x":1.203,"y":0.895,"l":0.8,"h":0.98},{"g":"A","x":1.262,"y":0.807,"l":0.72,"h":0.9},{"g":"A","x":1.321,"y":0.706,"l":0.64,"h":0.78},{"g":"A","x":1.384,"y":0.763,"l":0.68,"h":0.85},{"g":"A","x":1.443,"y":0.895,"l":0.8,"h":0.98},{"g":"A","x":1.12,"y":1.33,"l":1.24,"h":1.42},{"g":"A","x":1.179,"y":1.31,"l":1.22,"h":1.4},{"g":"A","x":1.262,"y":1.43,"l":1.33,"h":1.52},{"g":"A","x":1.274,"y":1.4,"l":1.3,"h":1.5},{"g":"A","x":1.309,"y":1.355,"l":1.25,"h":1.45},{"g":"A","x":1.344,"y":1.245,"l":1.15,"h":1.35},{"g":"A","x":1.41,"y":1.355,"l":1.26,"h":1.45},{"g":"A","x":1.486,"y":1.33,"l":1.22,"h":1.42},
{"g":"B","x":0.156,"y":2.22,"l":1.76,"h":3.0},{"g":"B","x":0.344,"y":1.443,"l":1.25,"h":1.6},{"g":"B","x":0.392,"y":1.245,"l":1.12,"h":1.65},{"g":"B","x":0.396,"y":1.19,"l":1.1,"h":1.28},{"g":"B","x":0.462,"y":1.167,"l":1.08,"h":1.25},{"g":"B","x":0.505,"y":1.14,"l":1.06,"h":1.22},{"g":"B","x":0.547,"y":1.228,"l":1.1,"h":1.35},{"g":"B","x":0.542,"y":1.07,"l":1.0,"h":1.14},{"g":"B","x":0.585,"y":1.06,"l":1.0,"h":1.12},{"g":"B","x":0.604,"y":1.62,"l":1.25,"h":1.96},{"g":"B","x":0.625,"y":1.22,"l":1.12,"h":1.3},{"g":"B","x":0.651,"y":1.22,"l":1.1,"h":1.73},{"g":"B","x":0.689,"y":1.4,"l":1.3,"h":1.57},{"g":"B","x":0.689,"y":1.325,"l":1.25,"h":1.4},{"g":"B","x":0.689,"y":1.245,"l":1.16,"h":1.33},{"g":"B","x":0.672,"y":1.135,"l":1.05,"h":1.22},{"g":"B","x":0.684,"y":1.1,"l":1.02,"h":1.18},{"g":"B","x":0.649,"y":1.03,"l":0.96,"h":1.1},{"g":"B","x":0.75,"y":0.974,"l":0.9,"h":1.05},{"g":"B","x":0.767,"y":1.29,"l":1.2,"h":1.38},{"g":"B","x":0.797,"y":1.38,"l":1.28,"h":1.48},{"g":"B","x":0.825,"y":1.31,"l":1.2,"h":1.42},{"g":"B","x":0.837,"y":1.355,"l":1.25,"h":1.46},{"g":"B","x":0.849,"y":1.27,"l":1.17,"h":1.38},{"g":"B","x":0.814,"y":1.22,"l":1.12,"h":1.32},{"g":"B","x":0.877,"y":0.85,"l":0.77,"h":0.93},{"g":"B","x":0.837,"y":0.895,"l":0.82,"h":0.97},{"g":"B","x":0.962,"y":1.465,"l":1.35,"h":1.65},{"g":"B","x":0.986,"y":1.465,"l":1.36,"h":1.6},{"g":"B","x":0.967,"y":1.31,"l":1.2,"h":1.42},{"g":"B","x":0.995,"y":0.807,"l":0.72,"h":0.9},{"g":"B","x":1.045,"y":0.785,"l":0.7,"h":0.87},{"g":"B","x":1.144,"y":0.794,"l":0.71,"h":0.88},{"g":"B","x":1.226,"y":0.763,"l":0.68,"h":0.85},{"g":"B","x":1.309,"y":0.746,"l":0.66,"h":0.83},{"g":"B","x":1.368,"y":0.772,"l":0.69,"h":0.86},{"g":"B","x":1.45,"y":0.755,"l":0.67,"h":0.84},{"g":"B","x":1.262,"y":1.42,"l":1.31,"h":1.52},{"g":"B","x":1.285,"y":1.345,"l":1.25,"h":1.45},{"g":"B","x":1.41,"y":1.315,"l":1.22,"h":1.41},{"g":"B","x":1.474,"y":1.3,"l":1.2,"h":1.4},{"g":"B","x":1.132,"y":1.27,"l":1.17,"h":1.37},{"g":"B","x":1.203,"y":1.255,"l":1.15,"h":1.36},
{"g":"C","x":0.142,"y":2.17,"l":1.73,"h":2.65},{"g":"C","x":0.34,"y":1.31,"l":1.24,"h":1.4},{"g":"C","x":0.38,"y":1.27,"l":1.2,"h":1.75},{"g":"C","x":0.39,"y":1.19,"l":1.13,"h":1.3},{"g":"C","x":0.455,"y":1.17,"l":1.1,"h":1.25},{"g":"C","x":0.5,"y":1.2,"l":1.13,"h":1.28},{"g":"C","x":0.535,"y":1.17,"l":1.1,"h":1.3},{"g":"C","x":0.57,"y":1.05,"l":0.99,"h":1.12},{"g":"C","x":0.6,"y":1.55,"l":1.35,"h":1.8},{"g":"C","x":0.62,"y":1.2,"l":1.1,"h":1.3},{"g":"C","x":0.64,"y":1.12,"l":1.02,"h":1.6},{"g":"C","x":0.68,"y":1.42,"l":1.33,"h":1.5},{"g":"C","x":0.685,"y":1.35,"l":1.27,"h":1.44},{"g":"C","x":0.688,"y":1.22,"l":1.14,"h":1.3},{"g":"C","x":0.7,"y":1.0,"l":0.93,"h":1.07},{"g":"C","x":0.66,"y":1.1,"l":1.02,"h":1.18},{"g":"C","x":0.76,"y":1.25,"l":1.16,"h":1.34},{"g":"C","x":0.79,"y":1.38,"l":1.3,"h":1.47},{"g":"C","x":0.83,"y":1.3,"l":1.21,"h":1.4},{"g":"C","x":0.85,"y":1.36,"l":1.27,"h":1.46},{"g":"C","x":0.82,"y":0.92,"l":0.84,"h":1.0},{"g":"C","x":0.87,"y":1.22,"l":1.13,"h":1.31},{"g":"C","x":0.95,"y":1.47,"l":1.38,"h":1.58},{"g":"C","x":0.985,"y":1.45,"l":1.36,"h":1.55},{"g":"C","x":0.97,"y":1.3,"l":1.2,"h":1.4},{"g":"C","x":1.0,"y":0.8,"l":0.72,"h":0.88},{"g":"C","x":1.1,"y":0.78,"l":0.7,"h":0.86},{"g":"C","x":1.2,"y":0.76,"l":0.68,"h":0.84},{"g":"C","x":1.3,"y":0.72,"l":0.64,"h":0.8},{"g":"C","x":1.44,"y":0.78,"l":0.7,"h":0.86},{"g":"C","x":1.26,"y":1.42,"l":1.33,"h":1.5},{"g":"C","x":1.29,"y":1.34,"l":1.25,"h":1.43},{"g":"C","x":1.41,"y":1.33,"l":1.24,"h":1.42},{"g":"C","x":1.48,"y":1.3,"l":1.2,"h":1.4},{"g":"C","x":1.15,"y":1.3,"l":1.21,"h":1.39},
{"g":"D","x":0.156,"y":2.09,"l":1.62,"h":2.96},{"g":"D","x":0.344,"y":1.31,"l":1.16,"h":1.53},{"g":"D","x":0.396,"y":1.27,"l":1.15,"h":1.63},{"g":"D","x":0.4,"y":1.18,"l":1.1,"h":1.26},{"g":"D","x":0.462,"y":1.2,"l":1.12,"h":1.28},{"g":"D","x":0.507,"y":1.23,"l":1.15,"h":1.31},{"g":"D","x":0.547,"y":1.11,"l":1.03,"h":1.2},{"g":"D","x":0.585,"y":1.03,"l":0.96,"h":1.1},{"g":"D","x":0.604,"y":1.565,"l":1.48,"h":1.82},{"g":"D","x":0.618,"y":1.2,"l":1.1,"h":1.3},{"g":"D","x":0.649,"y":1.245,"l":1.05,"h":1.6},{"g":"D","x":0.689,"y":1.4,"l":1.3,"h":1.55},{"g":"D","x":0.689,"y":1.3,"l":1.22,"h":1.38},{"g":"D","x":0.672,"y":1.12,"l":1.04,"h":1.2},{"g":"D","x":0.75,"y":0.96,"l":0.88,"h":1.04},{"g":"D","x":0.76,"y":1.22,"l":1.13,"h":1.31},{"g":"D","x":0.797,"y":1.34,"l":1.24,"h":1.45},{"g":"D","x":0.825,"y":1.28,"l":1.18,"h":1.38},{"g":"D","x":0.849,"y":1.395,"l":1.3,"h":1.5},{"g":"D","x":0.861,"y":1.28,"l":1.18,"h":1.38},{"g":"D","x":0.79,"y":1.11,"l":1.02,"h":1.2},{"g":"D","x":0.962,"y":1.465,"l":1.35,"h":1.6},{"g":"D","x":0.986,"y":1.42,"l":1.33,"h":1.52},{"g":"D","x":0.955,"y":1.31,"l":1.2,"h":1.42},{"g":"D","x":0.99,"y":0.83,"l":0.75,"h":0.91},{"g":"D","x":1.038,"y":0.85,"l":0.77,"h":0.93},{"g":"D","x":1.132,"y":0.816,"l":0.73,"h":0.9},{"g":"D","x":1.226,"y":0.72,"l":0.64,"h":0.8},{"g":"D","x":1.321,"y":0.763,"l":0.68,"h":0.85},{"g":"D","x":1.462,"y":0.728,"l":0.65,"h":0.81},{"g":"D","x":1.262,"y":1.41,"l":1.31,"h":1.51},{"g":"D","x":1.285,"y":1.33,"l":1.24,"h":1.42},{"g":"D","x":1.41,"y":1.34,"l":1.24,"h":1.44},{"g":"D","x":1.474,"y":1.31,"l":1.21,"h":1.41},{"g":"D","x":1.108,"y":1.29,"l":1.2,"h":1.38},{"g":"D","x":1.203,"y":1.245,"l":1.15,"h":1.34}
]
},
"spacing":16,
"vconcat":[
{"width":954,"height":20,"view":{"stroke":null},
"layer":[
{"data":{"values":[{"t":"14"}]},"mark":{"type":"text","align":"left","baseline":"middle","font":"Liberation Serif","fontSize":21,"color":"#111"},"encoding":{"x":{"datum":-0.0524,"type":"quantitative","scale":{"domain":[0,1],"nice":false,"zero":false},"axis":null},"text":{"field":"t"}}},
{"data":{"values":[{"t":"SHARIAT ET AL."}]},"mark":{"type":"text","align":"center","baseline":"middle","font":"Liberation Serif","fontSize":19,"color":"#111"},"encoding":{"x":{"datum":0.479,"type":"quantitative","axis":null},"text":{"field":"t"}}}
]},
{"columns":5,"bounds":"flush","spacing":{"row":20,"column":23},
"concat":[
{"width":212,"height":190,"title":{"text":"Observed","offset":-7},"data":{"name":"gobs"},"resolve":{"axis":{"x":"independent","y":"independent"}},
"layer":[
{"mark":{"type":"circle","size":46,"fill":"black","fillOpacity":0.38,"stroke":"black","strokeOpacity":0.45,"strokeWidth":0.8,"clip":true},"encoding":{"x":{"field":"x","type":"quantitative","scale":{"domain":[0,1.5],"nice":false,"zero":false},"axis":{"orient":"bottom","values":[0,0.1,0.2,0.3,0.4,0.5,0.6,0.7,0.8,0.9,1,1.1,1.2,1.3,1.4,1.5],"labels":false,"title":null,"tickSize":{"condition":{"test":"abs(datum.value*2-round(datum.value*2))<0.01","value":-6},"value":-3}}},"y":{"field":"y","type":"quantitative","scale":{"domain":[0.5,3],"nice":false,"zero":false},"axis":{"orient":"left","values":[0.5,0.6,0.7,0.8,0.9,1,1.1,1.2,1.3,1.4,1.5,1.6,1.7,1.8,1.9,2,2.1,2.2,2.3,2.4,2.5,2.6,2.7,2.8,2.9,3],"labelExpr":"abs(datum.value*2-round(datum.value*2))<0.01 ? format(datum.value,'.1f') : ''","title":"RUWE","tickSize":{"condition":{"test":"abs(datum.value*2-round(datum.value*2))<0.01","value":-6},"value":-3}}}}},
{"data":{"values":[{}]},"mark":{"type":"rule","color":"#ff1a1a","strokeDash":[4,2],"strokeWidth":1.3},"encoding":{"x":{"datum":0,"type":"quantitative","axis":{"orient":"top","values":[0,0.1,0.2,0.3,0.4,0.5,0.6,0.7,0.8,0.9,1,1.1,1.2,1.3,1.4,1.5],"labels":false,"title":null,"tickSize":{"condition":{"test":"abs(datum.value*2-round(datum.value*2))<0.01","value":-6},"value":-3}}},"x2":{"datum":1.5},"y":{"datum":1,"type":"quantitative","axis":{"orient":"right","values":[0.5,0.6,0.7,0.8,0.9,1,1.1,1.2,1.3,1.4,1.5,1.6,1.7,1.8,1.9,2,2.1,2.2,2.3,2.4,2.5,2.6,2.7,2.8,2.9,3],"labels":false,"title":null,"tickSize":{"condition":{"test":"abs(datum.value*2-round(datum.value*2))<0.01","value":-6},"value":-3}}}}},
{"data":{"values":[{"t":"Gaia LSP"}]},"mark":{"type":"text","align":"left","baseline":"middle","font":"Liberation Serif","fontSize":15,"color":"#333"},"encoding":{"x":{"datum":0.085,"type":"quantitative","axis":null},"y":{"datum":2.8,"type":"quantitative","axis":null},"text":{"field":"t"}}}
]},
{"width":212,"height":190,"title":{"text":"Simulated (from RV amplitude)","offset":-1},"data":{"name":"gsim"},"transform":[{"filter":"datum.g=='c'||datum.g=='A'"}],"resolve":{"axis":{"x":"independent","y":"independent"}},
"layer":[
{"mark":{"type":"rule","color":"black","opacity":0.25,"strokeWidth":1.5,"clip":true},"encoding":{"x":{"field":"x","type":"quantitative","scale":{"domain":[0,1.5],"nice":false,"zero":false},"axis":{"orient":"bottom","values":[0,0.1,0.2,0.3,0.4,0.5,0.6,0.7,0.8,0.9,1,1.1,1.2,1.3,1.4,1.5],"labels":false,"title":null,"tickSize":{"condition":{"test":"abs(datum.value*2-round(datum.value*2))<0.01","value":-6},"value":-3}}},"y":{"field":"lw","type":"quantitative","scale":{"domain":[0.5,3],"nice":false,"zero":false},"axis":{"orient":"left","values":[0.5,0.6,0.7,0.8,0.9,1,1.1,1.2,1.3,1.4,1.5,1.6,1.7,1.8,1.9,2,2.1,2.2,2.3,2.4,2.5,2.6,2.7,2.8,2.9,3],"labels":false,"title":null,"tickSize":{"condition":{"test":"abs(datum.value*2-round(datum.value*2))<0.01","value":-6},"value":-3}}},"y2":{"field":"hw"}}},
{"mark":{"type":"circle","size":46,"fill":"black","fillOpacity":0.38,"stroke":"black","strokeOpacity":0.45,"strokeWidth":0.8,"clip":true},"encoding":{"x":{"field":"x","type":"quantitative","axis":null},"y":{"field":"y","type":"quantitative","axis":null}}},
{"data":{"values":[{}]},"mark":{"type":"rule","color":"#ff1a1a","strokeDash":[4,2],"strokeWidth":1.3},"encoding":{"x":{"datum":0,"type":"quantitative","axis":{"orient":"top","values":[0,0.1,0.2,0.3,0.4,0.5,0.6,0.7,0.8,0.9,1,1.1,1.2,1.3,1.4,1.5],"labels":false,"title":null,"tickSize":{"condition":{"test":"abs(datum.value*2-round(datum.value*2))<0.01","value":-6},"value":-3}}},"x2":{"datum":1.5},"y":{"datum":1,"type":"quantitative","axis":{"orient":"right","values":[0.5,0.6,0.7,0.8,0.9,1,1.1,1.2,1.3,1.4,1.5,1.6,1.7,1.8,1.9,2,2.1,2.2,2.3,2.4,2.5,2.6,2.7,2.8,2.9,3],"labels":false,"title":null,"tickSize":{"condition":{"test":"abs(datum.value*2-round(datum.value*2))<0.01","value":-6},"value":-3}}}}},
{"data":{"values":[{}]},"mark":{"type":"rect","fill":"white","stroke":"#cccccc","strokeWidth":1,"cornerRadius":3},"encoding":{"x":{"datum":0.064,"type":"quantitative","axis":null},"x2":{"datum":0.375},"y":{"datum":2.91,"type":"quantitative","axis":null},"y2":{"datum":2.66}}},
{"data":{"values":[{"t":"e = 0.3"}]},"mark":{"type":"text","align":"left","baseline":"middle","font":"Liberation Serif","fontSize":13,"color":"#333"},"encoding":{"x":{"datum":0.1,"type":"quantitative","axis":null},"y":{"datum":2.785,"type":"quantitative","axis":null},"text":{"field":"t"}}}
]},
{"width":13,"height":190,"data":{"values":[{}]},"mark":{"type":"text","text":""},"encoding":{},"view":{"stroke":null}},
{"width":212,"height":190,"title":{"text":"Observed","offset":-7},"data":{"name":"gobs"},"resolve":{"axis":{"x":"independent","y":"independent"}},
"layer":[
{"mark":{"type":"circle","size":46,"fill":"black","fillOpacity":0.38,"stroke":"black","strokeOpacity":0.45,"strokeWidth":0.8,"clip":true},"encoding":{"x":{"field":"x","type":"quantitative","scale":{"domain":[0,1.5],"nice":false,"zero":false},"axis":{"orient":"bottom","values":[0,0.1,0.2,0.3,0.4,0.5,0.6,0.7,0.8,0.9,1,1.1,1.2,1.3,1.4,1.5],"labels":false,"title":null,"tickSize":{"condition":{"test":"abs(datum.value*2-round(datum.value*2))<0.01","value":-6},"value":-3}}},"y":{"field":"y","type":"quantitative","scale":{"domain":[0.5,3],"nice":false,"zero":false},"axis":{"orient":"left","values":[0.5,0.6,0.7,0.8,0.9,1,1.1,1.2,1.3,1.4,1.5,1.6,1.7,1.8,1.9,2,2.1,2.2,2.3,2.4,2.5,2.6,2.7,2.8,2.9,3],"labelExpr":"abs(datum.value*2-round(datum.value*2))<0.01 ? format(datum.value,'.1f') : ''","title":"RUWE","tickSize":{"condition":{"test":"abs(datum.value*2-round(datum.value*2))<0.01","value":-6},"value":-3}}}}},
{"data":{"values":[{}]},"mark":{"type":"rule","color":"#ff1a1a","strokeDash":[4,2],"strokeWidth":1.3},"encoding":{"x":{"datum":0,"type":"quantitative","axis":{"orient":"top","values":[0,0.1,0.2,0.3,0.4,0.5,0.6,0.7,0.8,0.9,1,1.1,1.2,1.3,1.4,1.5],"labels":false,"title":null,"tickSize":{"condition":{"test":"abs(datum.value*2-round(datum.value*2))<0.01","value":-6},"value":-3}}},"x2":{"datum":1.5},"y":{"datum":1,"type":"quantitative","axis":{"orient":"right","values":[0.5,0.6,0.7,0.8,0.9,1,1.1,1.2,1.3,1.4,1.5,1.6,1.7,1.8,1.9,2,2.1,2.2,2.3,2.4,2.5,2.6,2.7,2.8,2.9,3],"labels":false,"title":null,"tickSize":{"condition":{"test":"abs(datum.value*2-round(datum.value*2))<0.01","value":-6},"value":-3}}}}},
{"data":{"values":[{"t":"Gaia LSP"}]},"mark":{"type":"text","align":"left","baseline":"middle","font":"Liberation Serif","fontSize":15,"color":"#333"},"encoding":{"x":{"datum":0.085,"type":"quantitative","axis":null},"y":{"datum":2.8,"type":"quantitative","axis":null},"text":{"field":"t"}}}
]},
{"width":212,"height":190,"title":{"text":"Simulated (from RV amplitude)","offset":-1},"data":{"name":"gsim"},"transform":[{"filter":"datum.g=='c'||datum.g=='B'"}],"resolve":{"axis":{"x":"independent","y":"independent"}},
"layer":[
{"mark":{"type":"rule","color":"black","opacity":0.25,"strokeWidth":1.5,"clip":true},"encoding":{"x":{"field":"x","type":"quantitative","scale":{"domain":[0,1.5],"nice":false,"zero":false},"axis":{"orient":"bottom","values":[0,0.1,0.2,0.3,0.4,0.5,0.6,0.7,0.8,0.9,1,1.1,1.2,1.3,1.4,1.5],"labels":false,"title":null,"tickSize":{"condition":{"test":"abs(datum.value*2-round(datum.value*2))<0.01","value":-6},"value":-3}}},"y":{"field":"lw","type":"quantitative","scale":{"domain":[0.5,3],"nice":false,"zero":false},"axis":{"orient":"left","values":[0.5,0.6,0.7,0.8,0.9,1,1.1,1.2,1.3,1.4,1.5,1.6,1.7,1.8,1.9,2,2.1,2.2,2.3,2.4,2.5,2.6,2.7,2.8,2.9,3],"labels":false,"title":null,"tickSize":{"condition":{"test":"abs(datum.value*2-round(datum.value*2))<0.01","value":-6},"value":-3}}},"y2":{"field":"hw"}}},
{"mark":{"type":"circle","size":46,"fill":"black","fillOpacity":0.38,"stroke":"black","strokeOpacity":0.45,"strokeWidth":0.8,"clip":true},"encoding":{"x":{"field":"x","type":"quantitative","axis":null},"y":{"field":"y","type":"quantitative","axis":null}}},
{"data":{"values":[{}]},"mark":{"type":"rule","color":"#ff1a1a","strokeDash":[4,2],"strokeWidth":1.3},"encoding":{"x":{"datum":0,"type":"quantitative","axis":{"orient":"top","values":[0,0.1,0.2,0.3,0.4,0.5,0.6,0.7,0.8,0.9,1,1.1,1.2,1.3,1.4,1.5],"labels":false,"title":null,"tickSize":{"condition":{"test":"abs(datum.value*2-round(datum.value*2))<0.01","value":-6},"value":-3}}},"x2":{"datum":1.5},"y":{"datum":1,"type":"quantitative","axis":{"orient":"right","values":[0.5,0.6,0.7,0.8,0.9,1,1.1,1.2,1.3,1.4,1.5,1.6,1.7,1.8,1.9,2,2.1,2.2,2.3,2.4,2.5,2.6,2.7,2.8,2.9,3],"labels":false,"title":null,"tickSize":{"condition":{"test":"abs(datum.value*2-round(datum.value*2))<0.01","value":-6},"value":-3}}}}},
{"data":{"values":[{}]},"mark":{"type":"rect","fill":"white","stroke":"#cccccc","strokeWidth":1,"cornerRadius":3},"encoding":{"x":{"datum":0.071,"type":"quantitative","axis":null},"x2":{"datum":0.679},"y":{"datum":2.91,"type":"quantitative","axis":null},"y2":{"datum":2.66}}},
{"data":{"values":[{"t":"e ∼ U(0.1, 0.6)"}]},"mark":{"type":"text","align":"left","baseline":"middle","font":"Liberation Serif","fontSize":13,"color":"#333"},"encoding":{"x":{"datum":0.106,"type":"quantitative","axis":null},"y":{"datum":2.785,"type":"quantitative","axis":null},"text":{"field":"t"}}}
]},
{"width":212,"height":190,"data":{"name":"aobs"},"resolve":{"axis":{"x":"independent","y":"independent"}},
"layer":[
{"mark":{"type":"circle","size":46,"fill":"black","fillOpacity":0.38,"stroke":"black","strokeOpacity":0.45,"strokeWidth":0.8,"clip":true},"encoding":{"x":{"field":"x","type":"quantitative","scale":{"domain":[0,1.5],"nice":false,"zero":false},"axis":{"orient":"bottom","values":[0,0.1,0.2,0.3,0.4,0.5,0.6,0.7,0.8,0.9,1,1.1,1.2,1.3,1.4,1.5],"labelExpr":"abs(datum.value*2-round(datum.value*2))<0.01 ? format(datum.value,'.1f') : ''","title":"distance (kpc)","tickSize":{"condition":{"test":"abs(datum.value*2-round(datum.value*2))<0.01","value":-6},"value":-3}}},"y":{"field":"y","type":"quantitative","scale":{"domain":[0.5,3],"nice":false,"zero":false},"axis":{"orient":"left","values":[0.5,0.6,0.7,0.8,0.9,1,1.1,1.2,1.3,1.4,1.5,1.6,1.7,1.8,1.9,2,2.1,2.2,2.3,2.4,2.5,2.6,2.7,2.8,2.9,3],"labelExpr":"abs(datum.value*2-round(datum.value*2))<0.01 ? format(datum.value,'.1f') : ''","title":"RUWE","tickSize":{"condition":{"test":"abs(datum.value*2-round(datum.value*2))<0.01","value":-6},"value":-3}}}}},
{"data":{"values":[{}]},"mark":{"type":"rule","color":"#ff1a1a","strokeDash":[4,2],"strokeWidth":1.3},"encoding":{"x":{"datum":0,"type":"quantitative","axis":{"orient":"top","values":[0,0.1,0.2,0.3,0.4,0.5,0.6,0.7,0.8,0.9,1,1.1,1.2,1.3,1.4,1.5],"labels":false,"title":null,"tickSize":{"condition":{"test":"abs(datum.value*2-round(datum.value*2))<0.01","value":-6},"value":-3}}},"x2":{"datum":1.5},"y":{"datum":1,"type":"quantitative","axis":{"orient":"right","values":[0.5,0.6,0.7,0.8,0.9,1,1.1,1.2,1.3,1.4,1.5,1.6,1.7,1.8,1.9,2,2.1,2.2,2.3,2.4,2.5,2.6,2.7,2.8,2.9,3],"labels":false,"title":null,"tickSize":{"condition":{"test":"abs(datum.value*2-round(datum.value*2))<0.01","value":-6},"value":-3}}}}},
{"data":{"values":[{"t":"ASASSN LSP"}]},"mark":{"type":"text","align":"left","baseline":"middle","font":"Liberation Serif","fontSize":15,"color":"#333"},"encoding":{"x":{"datum":0.085,"type":"quantitative","axis":null},"y":{"datum":2.8,"type":"quantitative","axis":null},"text":{"field":"t"}}}
]},
{"width":212,"height":190,"data":{"name":"asim"},"transform":[{"filter":"datum.g=='c'||datum.g=='A'"}],"resolve":{"axis":{"x":"independent","y":"independent"}},
"layer":[
{"mark":{"type":"rule","color":"black","opacity":0.25,"strokeWidth":1.5,"clip":true},"encoding":{"x":{"field":"x","type":"quantitative","scale":{"domain":[0,1.5],"nice":false,"zero":false},"axis":{"orient":"bottom","values":[0,0.1,0.2,0.3,0.4,0.5,0.6,0.7,0.8,0.9,1,1.1,1.2,1.3,1.4,1.5],"labelExpr":"abs(datum.value*2-round(datum.value*2))<0.01 ? format(datum.value,'.1f') : ''","title":"distance (kpc)","tickSize":{"condition":{"test":"abs(datum.value*2-round(datum.value*2))<0.01","value":-6},"value":-3}}},"y":{"field":"l","type":"quantitative","scale":{"domain":[0.5,3],"nice":false,"zero":false},"axis":{"orient":"left","values":[0.5,0.6,0.7,0.8,0.9,1,1.1,1.2,1.3,1.4,1.5,1.6,1.7,1.8,1.9,2,2.1,2.2,2.3,2.4,2.5,2.6,2.7,2.8,2.9,3],"labels":false,"title":null,"tickSize":{"condition":{"test":"abs(datum.value*2-round(datum.value*2))<0.01","value":-6},"value":-3}}},"y2":{"field":"h"}}},
{"mark":{"type":"circle","size":46,"fill":"black","fillOpacity":0.38,"stroke":"black","strokeOpacity":0.45,"strokeWidth":0.8,"clip":true},"encoding":{"x":{"field":"x","type":"quantitative","axis":null},"y":{"field":"y","type":"quantitative","axis":null}}},
{"data":{"values":[{}]},"mark":{"type":"rule","color":"#ff1a1a","strokeDash":[4,2],"strokeWidth":1.3},"encoding":{"x":{"datum":0,"type":"quantitative","axis":{"orient":"top","values":[0,0.1,0.2,0.3,0.4,0.5,0.6,0.7,0.8,0.9,1,1.1,1.2,1.3,1.4,1.5],"labels":false,"title":null,"tickSize":{"condition":{"test":"abs(datum.value*2-round(datum.value*2))<0.01","value":-6},"value":-3}}},"x2":{"datum":1.5},"y":{"datum":1,"type":"quantitative","axis":{"orient":"right","values":[0.5,0.6,0.7,0.8,0.9,1,1.1,1.2,1.3,1.4,1.5,1.6,1.7,1.8,1.9,2,2.1,2.2,2.3,2.4,2.5,2.6,2.7,2.8,2.9,3],"labels":false,"title":null,"tickSize":{"condition":{"test":"abs(datum.value*2-round(datum.value*2))<0.01","value":-6},"value":-3}}}}}
]},
{"width":13,"height":190,"data":{"values":[{}]},"mark":{"type":"text","text":""},"encoding":{},"view":{"stroke":null}},
{"width":212,"height":190,"data":{"name":"aobs"},"resolve":{"axis":{"x":"independent","y":"independent"}},
"layer":[
{"mark":{"type":"circle","size":46,"fill":"black","fillOpacity":0.38,"stroke":"black","strokeOpacity":0.45,"strokeWidth":0.8,"clip":true},"encoding":{"x":{"field":"x","type":"quantitative","scale":{"domain":[0,1.5],"nice":false,"zero":false},"axis":{"orient":"bottom","values":[0,0.1,0.2,0.3,0.4,0.5,0.6,0.7,0.8,0.9,1,1.1,1.2,1.3,1.4,1.5],"labelExpr":"abs(datum.value*2-round(datum.value*2))<0.01 ? format(datum.value,'.1f') : ''","title":"distance (kpc)","tickSize":{"condition":{"test":"abs(datum.value*2-round(datum.value*2))<0.01","value":-6},"value":-3}}},"y":{"field":"y","type":"quantitative","scale":{"domain":[0.5,3],"nice":false,"zero":false},"axis":{"orient":"left","values":[0.5,0.6,0.7,0.8,0.9,1,1.1,1.2,1.3,1.4,1.5,1.6,1.7,1.8,1.9,2,2.1,2.2,2.3,2.4,2.5,2.6,2.7,2.8,2.9,3],"labelExpr":"abs(datum.value*2-round(datum.value*2))<0.01 ? format(datum.value,'.1f') : ''","title":"RUWE","tickSize":{"condition":{"test":"abs(datum.value*2-round(datum.value*2))<0.01","value":-6},"value":-3}}}}},
{"data":{"values":[{}]},"mark":{"type":"rule","color":"#ff1a1a","strokeDash":[4,2],"strokeWidth":1.3},"encoding":{"x":{"datum":0,"type":"quantitative","axis":{"orient":"top","values":[0,0.1,0.2,0.3,0.4,0.5,0.6,0.7,0.8,0.9,1,1.1,1.2,1.3,1.4,1.5],"labels":false,"title":null,"tickSize":{"condition":{"test":"abs(datum.value*2-round(datum.value*2))<0.01","value":-6},"value":-3}}},"x2":{"datum":1.5},"y":{"datum":1,"type":"quantitative","axis":{"orient":"right","values":[0.5,0.6,0.7,0.8,0.9,1,1.1,1.2,1.3,1.4,1.5,1.6,1.7,1.8,1.9,2,2.1,2.2,2.3,2.4,2.5,2.6,2.7,2.8,2.9,3],"labels":false,"title":null,"tickSize":{"condition":{"test":"abs(datum.value*2-round(datum.value*2))<0.01","value":-6},"value":-3}}}}},
{"data":{"values":[{"t":"ASASSN LSP"}]},"mark":{"type":"text","align":"left","baseline":"middle","font":"Liberation Serif","fontSize":15,"color":"#333"},"encoding":{"x":{"datum":0.085,"type":"quantitative","axis":null},"y":{"datum":2.8,"type":"quantitative","axis":null},"text":{"field":"t"}}}
]},
{"width":212,"height":190,"data":{"name":"asim"},"transform":[{"filter":"datum.g=='c'||datum.g=='B'"}],"resolve":{"axis":{"x":"independent","y":"independent"}},
"layer":[
{"mark":{"type":"rule","color":"black","opacity":0.25,"strokeWidth":1.5,"clip":true},"encoding":{"x":{"field":"x","type":"quantitative","scale":{"domain":[0,1.5],"nice":false,"zero":false},"axis":{"orient":"bottom","values":[0,0.1,0.2,0.3,0.4,0.5,0.6,0.7,0.8,0.9,1,1.1,1.2,1.3,1.4,1.5],"labelExpr":"abs(datum.value*2-round(datum.value*2))<0.01 ? format(datum.value,'.1f') : ''","title":"distance (kpc)","tickSize":{"condition":{"test":"abs(datum.value*2-round(datum.value*2))<0.01","value":-6},"value":-3}}},"y":{"field":"l","type":"quantitative","scale":{"domain":[0.5,3],"nice":false,"zero":false},"axis":{"orient":"left","values":[0.5,0.6,0.7,0.8,0.9,1,1.1,1.2,1.3,1.4,1.5,1.6,1.7,1.8,1.9,2,2.1,2.2,2.3,2.4,2.5,2.6,2.7,2.8,2.9,3],"labels":false,"title":null,"tickSize":{"condition":{"test":"abs(datum.value*2-round(datum.value*2))<0.01","value":-6},"value":-3}}},"y2":{"field":"h"}}},
{"mark":{"type":"circle","size":46,"fill":"black","fillOpacity":0.38,"stroke":"black","strokeOpacity":0.45,"strokeWidth":0.8,"clip":true},"encoding":{"x":{"field":"x","type":"quantitative","axis":null},"y":{"field":"y","type":"quantitative","axis":null}}},
{"data":{"values":[{}]},"mark":{"type":"rule","color":"#ff1a1a","strokeDash":[4,2],"strokeWidth":1.3},"encoding":{"x":{"datum":0,"type":"quantitative","axis":{"orient":"top","values":[0,0.1,0.2,0.3,0.4,0.5,0.6,0.7,0.8,0.9,1,1.1,1.2,1.3,1.4,1.5],"labels":false,"title":null,"tickSize":{"condition":{"test":"abs(datum.value*2-round(datum.value*2))<0.01","value":-6},"value":-3}}},"x2":{"datum":1.5},"y":{"datum":1,"type":"quantitative","axis":{"orient":"right","values":[0.5,0.6,0.7,0.8,0.9,1,1.1,1.2,1.3,1.4,1.5,1.6,1.7,1.8,1.9,2,2.1,2.2,2.3,2.4,2.5,2.6,2.7,2.8,2.9,3],"labels":false,"title":null,"tickSize":{"condition":{"test":"abs(datum.value*2-round(datum.value*2))<0.01","value":-6},"value":-3}}}}}
]},
{"width":212,"height":22,"data":{"values":[{}]},"mark":{"type":"text","text":""},"encoding":{},"view":{"stroke":null}},
{"width":212,"height":22,"data":{"values":[{}]},"mark":{"type":"text","text":""},"encoding":{},"view":{"stroke":null}},
{"width":13,"height":22,"data":{"values":[{}]},"mark":{"type":"text","text":""},"encoding":{},"view":{"stroke":null}},
{"width":212,"height":22,"data":{"values":[{}]},"mark":{"type":"text","text":""},"encoding":{},"view":{"stroke":null}},
{"width":212,"height":22,"data":{"values":[{}]},"mark":{"type":"text","text":""},"encoding":{},"view":{"stroke":null}},
{"width":212,"height":190,"title":{"text":"Observed","offset":-7},"data":{"name":"gobs"},"resolve":{"axis":{"x":"independent","y":"independent"}},
"layer":[
{"mark":{"type":"circle","size":46,"fill":"black","fillOpacity":0.38,"stroke":"black","strokeOpacity":0.45,"strokeWidth":0.8,"clip":true},"encoding":{"x":{"field":"x","type":"quantitative","scale":{"domain":[0,1.5],"nice":false,"zero":false},"axis":{"orient":"bottom","values":[0,0.1,0.2,0.3,0.4,0.5,0.6,0.7,0.8,0.9,1,1.1,1.2,1.3,1.4,1.5],"labels":false,"title":null,"tickSize":{"condition":{"test":"abs(datum.value*2-round(datum.value*2))<0.01","value":-6},"value":-3}}},"y":{"field":"y","type":"quantitative","scale":{"domain":[0.5,3],"nice":false,"zero":false},"axis":{"orient":"left","values":[0.5,0.6,0.7,0.8,0.9,1,1.1,1.2,1.3,1.4,1.5,1.6,1.7,1.8,1.9,2,2.1,2.2,2.3,2.4,2.5,2.6,2.7,2.8,2.9,3],"labelExpr":"abs(datum.value*2-round(datum.value*2))<0.01 ? format(datum.value,'.1f') : ''","title":"RUWE","tickSize":{"condition":{"test":"abs(datum.value*2-round(datum.value*2))<0.01","value":-6},"value":-3}}}}},
{"data":{"values":[{}]},"mark":{"type":"rule","color":"#ff1a1a","strokeDash":[4,2],"strokeWidth":1.3},"encoding":{"x":{"datum":0,"type":"quantitative","axis":{"orient":"top","values":[0,0.1,0.2,0.3,0.4,0.5,0.6,0.7,0.8,0.9,1,1.1,1.2,1.3,1.4,1.5],"labels":false,"title":null,"tickSize":{"condition":{"test":"abs(datum.value*2-round(datum.value*2))<0.01","value":-6},"value":-3}}},"x2":{"datum":1.5},"y":{"datum":1,"type":"quantitative","axis":{"orient":"right","values":[0.5,0.6,0.7,0.8,0.9,1,1.1,1.2,1.3,1.4,1.5,1.6,1.7,1.8,1.9,2,2.1,2.2,2.3,2.4,2.5,2.6,2.7,2.8,2.9,3],"labels":false,"title":null,"tickSize":{"condition":{"test":"abs(datum.value*2-round(datum.value*2))<0.01","value":-6},"value":-3}}}}},
{"data":{"values":[{"t":"Gaia LSP"}]},"mark":{"type":"text","align":"left","baseline":"middle","font":"Liberation Serif","fontSize":15,"color":"#333"},"encoding":{"x":{"datum":0.085,"type":"quantitative","axis":null},"y":{"datum":2.8,"type":"quantitative","axis":null},"text":{"field":"t"}}}
]},
{"width":212,"height":190,"title":{"text":"Simulated (from RV amplitude)","offset":-1},"data":{"name":"gsim"},"transform":[{"filter":"datum.g=='c'||datum.g=='C'"}],"resolve":{"axis":{"x":"independent","y":"independent"}},
"layer":[
{"mark":{"type":"rule","color":"black","opacity":0.25,"strokeWidth":1.5,"clip":true},"encoding":{"x":{"field":"x","type":"quantitative","scale":{"domain":[0,1.5],"nice":false,"zero":false},"axis":{"orient":"bottom","values":[0,0.1,0.2,0.3,0.4,0.5,0.6,0.7,0.8,0.9,1,1.1,1.2,1.3,1.4,1.5],"labels":false,"title":null,"tickSize":{"condition":{"test":"abs(datum.value*2-round(datum.value*2))<0.01","value":-6},"value":-3}}},"y":{"field":"ln","type":"quantitative","scale":{"domain":[0.5,3],"nice":false,"zero":false},"axis":{"orient":"left","values":[0.5,0.6,0.7,0.8,0.9,1,1.1,1.2,1.3,1.4,1.5,1.6,1.7,1.8,1.9,2,2.1,2.2,2.3,2.4,2.5,2.6,2.7,2.8,2.9,3],"labels":false,"title":null,"tickSize":{"condition":{"test":"abs(datum.value*2-round(datum.value*2))<0.01","value":-6},"value":-3}}},"y2":{"field":"hn"}}},
{"mark":{"type":"circle","size":46,"fill":"black","fillOpacity":0.38,"stroke":"black","strokeOpacity":0.45,"strokeWidth":0.8,"clip":true},"encoding":{"x":{"field":"x","type":"quantitative","axis":null},"y":{"field":"y","type":"quantitative","axis":null}}},
{"data":{"values":[{}]},"mark":{"type":"rule","color":"#ff1a1a","strokeDash":[4,2],"strokeWidth":1.3},"encoding":{"x":{"datum":0,"type":"quantitative","axis":{"orient":"top","values":[0,0.1,0.2,0.3,0.4,0.5,0.6,0.7,0.8,0.9,1,1.1,1.2,1.3,1.4,1.5],"labels":false,"title":null,"tickSize":{"condition":{"test":"abs(datum.value*2-round(datum.value*2))<0.01","value":-6},"value":-3}}},"x2":{"datum":1.5},"y":{"datum":1,"type":"quantitative","axis":{"orient":"right","values":[0.5,0.6,0.7,0.8,0.9,1,1.1,1.2,1.3,1.4,1.5,1.6,1.7,1.8,1.9,2,2.1,2.2,2.3,2.4,2.5,2.6,2.7,2.8,2.9,3],"labels":false,"title":null,"tickSize":{"condition":{"test":"abs(datum.value*2-round(datum.value*2))<0.01","value":-6},"value":-3}}}}},
{"data":{"values":[{}]},"mark":{"type":"rect","fill":"white","stroke":"#cccccc","strokeWidth":1,"cornerRadius":3},"encoding":{"x":{"datum":0.064,"type":"quantitative","axis":null},"x2":{"datum":0.85},"y":{"datum":2.91,"type":"quantitative","axis":null},"y2":{"datum":2.66}}},
{"data":{"values":[{"t":"e = 0.3, edge-on"}]},"mark":{"type":"text","align":"left","baseline":"middle","font":"Liberation Serif","fontSize":13,"color":"#333"},"encoding":{"x":{"datum":0.1,"type":"quantitative","axis":null},"y":{"datum":2.785,"type":"quantitative","axis":null},"text":{"field":"t"}}}
]},
{"width":13,"height":190,"data":{"values":[{}]},"mark":{"type":"text","text":""},"encoding":{},"view":{"stroke":null}},
{"width":212,"height":190,"title":{"text":"Observed","offset":-7},"data":{"name":"gobs"},"resolve":{"axis":{"x":"independent","y":"independent"}},
"layer":[
{"mark":{"type":"circle","size":46,"fill":"black","fillOpacity":0.38,"stroke":"black","strokeOpacity":0.45,"strokeWidth":0.8,"clip":true},"encoding":{"x":{"field":"x","type":"quantitative","scale":{"domain":[0,1.5],"nice":false,"zero":false},"axis":{"orient":"bottom","values":[0,0.1,0.2,0.3,0.4,0.5,0.6,0.7,0.8,0.9,1,1.1,1.2,1.3,1.4,1.5],"labels":false,"title":null,"tickSize":{"condition":{"test":"abs(datum.value*2-round(datum.value*2))<0.01","value":-6},"value":-3}}},"y":{"field":"y","type":"quantitative","scale":{"domain":[0.5,3],"nice":false,"zero":false},"axis":{"orient":"left","values":[0.5,0.6,0.7,0.8,0.9,1,1.1,1.2,1.3,1.4,1.5,1.6,1.7,1.8,1.9,2,2.1,2.2,2.3,2.4,2.5,2.6,2.7,2.8,2.9,3],"labelExpr":"abs(datum.value*2-round(datum.value*2))<0.01 ? format(datum.value,'.1f') : ''","title":"RUWE","tickSize":{"condition":{"test":"abs(datum.value*2-round(datum.value*2))<0.01","value":-6},"value":-3}}}}},
{"data":{"values":[{}]},"mark":{"type":"rule","color":"#ff1a1a","strokeDash":[4,2],"strokeWidth":1.3},"encoding":{"x":{"datum":0,"type":"quantitative","axis":{"orient":"top","values":[0,0.1,0.2,0.3,0.4,0.5,0.6,0.7,0.8,0.9,1,1.1,1.2,1.3,1.4,1.5],"labels":false,"title":null,"tickSize":{"condition":{"test":"abs(datum.value*2-round(datum.value*2))<0.01","value":-6},"value":-3}}},"x2":{"datum":1.5},"y":{"datum":1,"type":"quantitative","axis":{"orient":"right","values":[0.5,0.6,0.7,0.8,0.9,1,1.1,1.2,1.3,1.4,1.5,1.6,1.7,1.8,1.9,2,2.1,2.2,2.3,2.4,2.5,2.6,2.7,2.8,2.9,3],"labels":false,"title":null,"tickSize":{"condition":{"test":"abs(datum.value*2-round(datum.value*2))<0.01","value":-6},"value":-3}}}}},
{"data":{"values":[{"t":"Gaia LSP"}]},"mark":{"type":"text","align":"left","baseline":"middle","font":"Liberation Serif","fontSize":15,"color":"#333"},"encoding":{"x":{"datum":0.085,"type":"quantitative","axis":null},"y":{"datum":2.8,"type":"quantitative","axis":null},"text":{"field":"t"}}}
]},
{"width":212,"height":190,"title":{"text":"Simulated (from RV amplitude)","offset":-1},"data":{"name":"gsim"},"transform":[{"filter":"datum.g=='c'||datum.g=='D'"}],"resolve":{"axis":{"x":"independent","y":"independent"}},
"layer":[
{"mark":{"type":"rule","color":"black","opacity":0.25,"strokeWidth":1.5,"clip":true},"encoding":{"x":{"field":"x","type":"quantitative","scale":{"domain":[0,1.5],"nice":false,"zero":false},"axis":{"orient":"bottom","values":[0,0.1,0.2,0.3,0.4,0.5,0.6,0.7,0.8,0.9,1,1.1,1.2,1.3,1.4,1.5],"labels":false,"title":null,"tickSize":{"condition":{"test":"abs(datum.value*2-round(datum.value*2))<0.01","value":-6},"value":-3}}},"y":{"field":"ln","type":"quantitative","scale":{"domain":[0.5,3],"nice":false,"zero":false},"axis":{"orient":"left","values":[0.5,0.6,0.7,0.8,0.9,1,1.1,1.2,1.3,1.4,1.5,1.6,1.7,1.8,1.9,2,2.1,2.2,2.3,2.4,2.5,2.6,2.7,2.8,2.9,3],"labels":false,"title":null,"tickSize":{"condition":{"test":"abs(datum.value*2-round(datum.value*2))<0.01","value":-6},"value":-3}}},"y2":{"field":"hn"}}},
{"mark":{"type":"circle","size":46,"fill":"black","fillOpacity":0.38,"stroke":"black","strokeOpacity":0.45,"strokeWidth":0.8,"clip":true},"encoding":{"x":{"field":"x","type":"quantitative","axis":null},"y":{"field":"y","type":"quantitative","axis":null}}},
{"data":{"values":[{}]},"mark":{"type":"rule","color":"#ff1a1a","strokeDash":[4,2],"strokeWidth":1.3},"encoding":{"x":{"datum":0,"type":"quantitative","axis":{"orient":"top","values":[0,0.1,0.2,0.3,0.4,0.5,0.6,0.7,0.8,0.9,1,1.1,1.2,1.3,1.4,1.5],"labels":false,"title":null,"tickSize":{"condition":{"test":"abs(datum.value*2-round(datum.value*2))<0.01","value":-6},"value":-3}}},"x2":{"datum":1.5},"y":{"datum":1,"type":"quantitative","axis":{"orient":"right","values":[0.5,0.6,0.7,0.8,0.9,1,1.1,1.2,1.3,1.4,1.5,1.6,1.7,1.8,1.9,2,2.1,2.2,2.3,2.4,2.5,2.6,2.7,2.8,2.9,3],"labels":false,"title":null,"tickSize":{"condition":{"test":"abs(datum.value*2-round(datum.value*2))<0.01","value":-6},"value":-3}}}}},
{"data":{"values":[{}]},"mark":{"type":"rect","fill":"white","stroke":"#cccccc","strokeWidth":1,"cornerRadius":3},"encoding":{"x":{"datum":0.071,"type":"quantitative","axis":null},"x2":{"datum":1.027},"y":{"datum":2.91,"type":"quantitative","axis":null},"y2":{"datum":2.66}}},
{"data":{"values":[{"t":"e ∼ U(0.1, 0.6), edge-on"}]},"mark":{"type":"text","align":"left","baseline":"middle","font":"Liberation Serif","fontSize":13,"color":"#333"},"encoding":{"x":{"datum":0.106,"type":"quantitative","axis":null},"y":{"datum":2.785,"type":"quantitative","axis":null},"text":{"field":"t"}}}
]},
{"width":212,"height":190,"data":{"name":"aobs"},"resolve":{"axis":{"x":"independent","y":"independent"}},
"layer":[
{"mark":{"type":"circle","size":46,"fill":"black","fillOpacity":0.38,"stroke":"black","strokeOpacity":0.45,"strokeWidth":0.8,"clip":true},"encoding":{"x":{"field":"x","type":"quantitative","scale":{"domain":[0,1.5],"nice":false,"zero":false},"axis":{"orient":"bottom","values":[0,0.1,0.2,0.3,0.4,0.5,0.6,0.7,0.8,0.9,1,1.1,1.2,1.3,1.4,1.5],"labelExpr":"abs(datum.value*2-round(datum.value*2))<0.01 ? format(datum.value,'.1f') : ''","title":"distance (kpc)","tickSize":{"condition":{"test":"abs(datum.value*2-round(datum.value*2))<0.01","value":-6},"value":-3}}},"y":{"field":"y","type":"quantitative","scale":{"domain":[0.5,3],"nice":false,"zero":false},"axis":{"orient":"left","values":[0.5,0.6,0.7,0.8,0.9,1,1.1,1.2,1.3,1.4,1.5,1.6,1.7,1.8,1.9,2,2.1,2.2,2.3,2.4,2.5,2.6,2.7,2.8,2.9,3],"labelExpr":"abs(datum.value*2-round(datum.value*2))<0.01 ? format(datum.value,'.1f') : ''","title":"RUWE","tickSize":{"condition":{"test":"abs(datum.value*2-round(datum.value*2))<0.01","value":-6},"value":-3}}}}},
{"data":{"values":[{}]},"mark":{"type":"rule","color":"#ff1a1a","strokeDash":[4,2],"strokeWidth":1.3},"encoding":{"x":{"datum":0,"type":"quantitative","axis":{"orient":"top","values":[0,0.1,0.2,0.3,0.4,0.5,0.6,0.7,0.8,0.9,1,1.1,1.2,1.3,1.4,1.5],"labels":false,"title":null,"tickSize":{"condition":{"test":"abs(datum.value*2-round(datum.value*2))<0.01","value":-6},"value":-3}}},"x2":{"datum":1.5},"y":{"datum":1,"type":"quantitative","axis":{"orient":"right","values":[0.5,0.6,0.7,0.8,0.9,1,1.1,1.2,1.3,1.4,1.5,1.6,1.7,1.8,1.9,2,2.1,2.2,2.3,2.4,2.5,2.6,2.7,2.8,2.9,3],"labels":false,"title":null,"tickSize":{"condition":{"test":"abs(datum.value*2-round(datum.value*2))<0.01","value":-6},"value":-3}}}}},
{"data":{"values":[{"t":"ASASSN LSP"}]},"mark":{"type":"text","align":"left","baseline":"middle","font":"Liberation Serif","fontSize":15,"color":"#333"},"encoding":{"x":{"datum":0.085,"type":"quantitative","axis":null},"y":{"datum":2.8,"type":"quantitative","axis":null},"text":{"field":"t"}}}
]},
{"width":212,"height":190,"data":{"name":"asim"},"transform":[{"filter":"datum.g=='c'||datum.g=='C'"}],"resolve":{"axis":{"x":"independent","y":"independent"}},
"layer":[
{"mark":{"type":"rule","color":"black","opacity":0.25,"strokeWidth":1.5,"clip":true},"encoding":{"x":{"field":"x","type":"quantitative","scale":{"domain":[0,1.5],"nice":false,"zero":false},"axis":{"orient":"bottom","values":[0,0.1,0.2,0.3,0.4,0.5,0.6,0.7,0.8,0.9,1,1.1,1.2,1.3,1.4,1.5],"labelExpr":"abs(datum.value*2-round(datum.value*2))<0.01 ? format(datum.value,'.1f') : ''","title":"distance (kpc)","tickSize":{"condition":{"test":"abs(datum.value*2-round(datum.value*2))<0.01","value":-6},"value":-3}}},"y":{"field":"l","type":"quantitative","scale":{"domain":[0.5,3],"nice":false,"zero":false},"axis":{"orient":"left","values":[0.5,0.6,0.7,0.8,0.9,1,1.1,1.2,1.3,1.4,1.5,1.6,1.7,1.8,1.9,2,2.1,2.2,2.3,2.4,2.5,2.6,2.7,2.8,2.9,3],"labels":false,"title":null,"tickSize":{"condition":{"test":"abs(datum.value*2-round(datum.value*2))<0.01","value":-6},"value":-3}}},"y2":{"field":"h"}}},
{"mark":{"type":"circle","size":46,"fill":"black","fillOpacity":0.38,"stroke":"black","strokeOpacity":0.45,"strokeWidth":0.8,"clip":true},"encoding":{"x":{"field":"x","type":"quantitative","axis":null},"y":{"field":"y","type":"quantitative","axis":null}}},
{"data":{"values":[{}]},"mark":{"type":"rule","color":"#ff1a1a","strokeDash":[4,2],"strokeWidth":1.3},"encoding":{"x":{"datum":0,"type":"quantitative","axis":{"orient":"top","values":[0,0.1,0.2,0.3,0.4,0.5,0.6,0.7,0.8,0.9,1,1.1,1.2,1.3,1.4,1.5],"labels":false,"title":null,"tickSize":{"condition":{"test":"abs(datum.value*2-round(datum.value*2))<0.01","value":-6},"value":-3}}},"x2":{"datum":1.5},"y":{"datum":1,"type":"quantitative","axis":{"orient":"right","values":[0.5,0.6,0.7,0.8,0.9,1,1.1,1.2,1.3,1.4,1.5,1.6,1.7,1.8,1.9,2,2.1,2.2,2.3,2.4,2.5,2.6,2.7,2.8,2.9,3],"labels":false,"title":null,"tickSize":{"condition":{"test":"abs(datum.value*2-round(datum.value*2))<0.01","value":-6},"value":-3}}}}}
]},
{"width":13,"height":190,"data":{"values":[{}]},"mark":{"type":"text","text":""},"encoding":{},"view":{"stroke":null}},
{"width":212,"height":190,"data":{"name":"aobs"},"resolve":{"axis":{"x":"independent","y":"independent"}},
"layer":[
{"mark":{"type":"circle","size":46,"fill":"black","fillOpacity":0.38,"stroke":"black","strokeOpacity":0.45,"strokeWidth":0.8,"clip":true},"encoding":{"x":{"field":"x","type":"quantitative","scale":{"domain":[0,1.5],"nice":false,"zero":false},"axis":{"orient":"bottom","values":[0,0.1,0.2,0.3,0.4,0.5,0.6,0.7,0.8,0.9,1,1.1,1.2,1.3,1.4,1.5],"labelExpr":"abs(datum.value*2-round(datum.value*2))<0.01 ? format(datum.value,'.1f') : ''","title":"distance (kpc)","tickSize":{"condition":{"test":"abs(datum.value*2-round(datum.value*2))<0.01","value":-6},"value":-3}}},"y":{"field":"y","type":"quantitative","scale":{"domain":[0.5,3],"nice":false,"zero":false},"axis":{"orient":"left","values":[0.5,0.6,0.7,0.8,0.9,1,1.1,1.2,1.3,1.4,1.5,1.6,1.7,1.8,1.9,2,2.1,2.2,2.3,2.4,2.5,2.6,2.7,2.8,2.9,3],"labelExpr":"abs(datum.value*2-round(datum.value*2))<0.01 ? format(datum.value,'.1f') : ''","title":"RUWE","tickSize":{"condition":{"test":"abs(datum.value*2-round(datum.value*2))<0.01","value":-6},"value":-3}}}}},
{"data":{"values":[{}]},"mark":{"type":"rule","color":"#ff1a1a","strokeDash":[4,2],"strokeWidth":1.3},"encoding":{"x":{"datum":0,"type":"quantitative","axis":{"orient":"top","values":[0,0.1,0.2,0.3,0.4,0.5,0.6,0.7,0.8,0.9,1,1.1,1.2,1.3,1.4,1.5],"labels":false,"title":null,"tickSize":{"condition":{"test":"abs(datum.value*2-round(datum.value*2))<0.01","value":-6},"value":-3}}},"x2":{"datum":1.5},"y":{"datum":1,"type":"quantitative","axis":{"orient":"right","values":[0.5,0.6,0.7,0.8,0.9,1,1.1,1.2,1.3,1.4,1.5,1.6,1.7,1.8,1.9,2,2.1,2.2,2.3,2.4,2.5,2.6,2.7,2.8,2.9,3],"labels":false,"title":null,"tickSize":{"condition":{"test":"abs(datum.value*2-round(datum.value*2))<0.01","value":-6},"value":-3}}}}},
{"data":{"values":[{"t":"ASASSN LSP"}]},"mark":{"type":"text","align":"left","baseline":"middle","font":"Liberation Serif","fontSize":15,"color":"#333"},"encoding":{"x":{"datum":0.085,"type":"quantitative","axis":null},"y":{"datum":2.8,"type":"quantitative","axis":null},"text":{"field":"t"}}}
]},
{"width":212,"height":190,"data":{"name":"asim"},"transform":[{"filter":"datum.g=='c'||datum.g=='D'"}],"resolve":{"axis":{"x":"independent","y":"independent"}},
"layer":[
{"mark":{"type":"rule","color":"black","opacity":0.25,"strokeWidth":1.5,"clip":true},"encoding":{"x":{"field":"x","type":"quantitative","scale":{"domain":[0,1.5],"nice":false,"zero":false},"axis":{"orient":"bottom","values":[0,0.1,0.2,0.3,0.4,0.5,0.6,0.7,0.8,0.9,1,1.1,1.2,1.3,1.4,1.5],"labelExpr":"abs(datum.value*2-round(datum.value*2))<0.01 ? format(datum.value,'.1f') : ''","title":"distance (kpc)","tickSize":{"condition":{"test":"abs(datum.value*2-round(datum.value*2))<0.01","value":-6},"value":-3}}},"y":{"field":"l","type":"quantitative","scale":{"domain":[0.5,3],"nice":false,"zero":false},"axis":{"orient":"left","values":[0.5,0.6,0.7,0.8,0.9,1,1.1,1.2,1.3,1.4,1.5,1.6,1.7,1.8,1.9,2,2.1,2.2,2.3,2.4,2.5,2.6,2.7,2.8,2.9,3],"labels":false,"title":null,"tickSize":{"condition":{"test":"abs(datum.value*2-round(datum.value*2))<0.01","value":-6},"value":-3}}},"y2":{"field":"h"}}},
{"mark":{"type":"circle","size":46,"fill":"black","fillOpacity":0.38,"stroke":"black","strokeOpacity":0.45,"strokeWidth":0.8,"clip":true},"encoding":{"x":{"field":"x","type":"quantitative","axis":null},"y":{"field":"y","type":"quantitative","axis":null}}},
{"data":{"values":[{}]},"mark":{"type":"rule","color":"#ff1a1a","strokeDash":[4,2],"strokeWidth":1.3},"encoding":{"x":{"datum":0,"type":"quantitative","axis":{"orient":"top","values":[0,0.1,0.2,0.3,0.4,0.5,0.6,0.7,0.8,0.9,1,1.1,1.2,1.3,1.4,1.5],"labels":false,"title":null,"tickSize":{"condition":{"test":"abs(datum.value*2-round(datum.value*2))<0.01","value":-6},"value":-3}}},"x2":{"datum":1.5},"y":{"datum":1,"type":"quantitative","axis":{"orient":"right","values":[0.5,0.6,0.7,0.8,0.9,1,1.1,1.2,1.3,1.4,1.5,1.6,1.7,1.8,1.9,2,2.1,2.2,2.3,2.4,2.5,2.6,2.7,2.8,2.9,3],"labels":false,"title":null,"tickSize":{"condition":{"test":"abs(datum.value*2-round(datum.value*2))<0.01","value":-6},"value":-3}}}}}
]}
]}
]
}
